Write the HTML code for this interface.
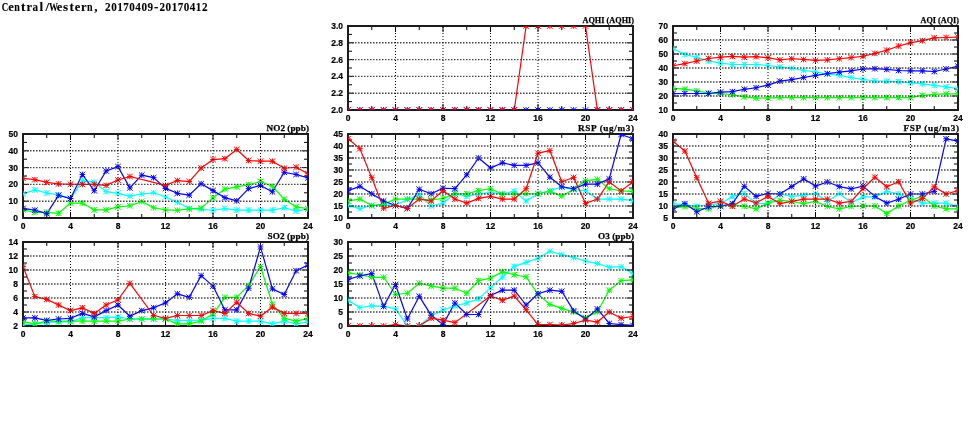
<!DOCTYPE html>
<html><head><meta charset="utf-8"><style>
html,body{margin:0;padding:0;background:#fff;width:975px;height:447px;overflow:hidden}
svg{display:block;will-change:transform}
.t text{font-family:"Liberation Sans",sans-serif;font-weight:bold;font-size:8.5px;fill:#000;stroke:#000;stroke-width:0.2}
.pt{font-family:"Liberation Serif",serif;font-weight:bold;font-size:9.2px;fill:#000;stroke:#000;stroke-width:0.25}
.ttl text{font-family:"Liberation Serif",serif;font-weight:bold;font-size:12px;fill:#000;stroke:#000;stroke-width:0.1}
</style></head><body>
<svg width="975" height="447" viewBox="0 0 975 447">
<defs><clipPath id="c0"><rect x="348" y="26" width="285" height="84"/></clipPath><clipPath id="c1"><rect x="673" y="26" width="285" height="84"/></clipPath><clipPath id="c2"><rect x="23" y="134" width="285" height="84"/></clipPath><clipPath id="c3"><rect x="348" y="134" width="285" height="84"/></clipPath><clipPath id="c4"><rect x="673" y="134" width="285" height="84"/></clipPath><clipPath id="c5"><rect x="23" y="242" width="285" height="84"/></clipPath><clipPath id="c6"><rect x="348" y="242" width="285" height="84"/></clipPath></defs>
<rect width="975" height="447" fill="#fff"/>
<g class="ttl"><text transform="translate(5.03,10.90) scale(0.750,1)" text-anchor="middle">C</text><text transform="translate(11.08,10.90) scale(1.045,1)" text-anchor="middle">e</text><text transform="translate(17.12,10.90) scale(0.834,1)" text-anchor="middle">n</text><text transform="translate(23.17,10.90) scale(1.100,1)" text-anchor="middle">t</text><text transform="translate(29.22,10.90) scale(1.045,1)" text-anchor="middle">r</text><text transform="translate(35.27,10.90) scale(0.928,1)" text-anchor="middle">a</text><text transform="translate(41.32,10.90) scale(1.100,1)" text-anchor="middle">l</text><text transform="translate(47.38,10.90) scale(1.100,1)" text-anchor="middle">/</text><text transform="translate(53.42,10.90) scale(0.750,1)" text-anchor="middle">W</text><text transform="translate(59.47,10.90) scale(1.045,1)" text-anchor="middle">e</text><text transform="translate(65.53,10.90) scale(1.100,1)" text-anchor="middle">s</text><text transform="translate(71.58,10.90) scale(1.100,1)" text-anchor="middle">t</text><text transform="translate(77.62,10.90) scale(1.045,1)" text-anchor="middle">e</text><text transform="translate(83.67,10.90) scale(1.045,1)" text-anchor="middle">r</text><text transform="translate(89.73,10.90) scale(0.834,1)" text-anchor="middle">n</text><text transform="translate(95.78,10.90) scale(1.100,1)" text-anchor="middle">,</text><text transform="translate(107.88,10.90) scale(0.928,1)" text-anchor="middle">2</text><text transform="translate(113.92,10.90) scale(0.928,1)" text-anchor="middle">0</text><text transform="translate(119.98,10.90) scale(0.928,1)" text-anchor="middle">1</text><text transform="translate(126.03,10.90) scale(0.928,1)" text-anchor="middle">7</text><text transform="translate(132.08,10.90) scale(0.928,1)" text-anchor="middle">0</text><text transform="translate(138.12,10.90) scale(0.928,1)" text-anchor="middle">4</text><text transform="translate(144.18,10.90) scale(0.928,1)" text-anchor="middle">0</text><text transform="translate(150.22,10.90) scale(0.928,1)" text-anchor="middle">9</text><text transform="translate(156.28,10.90) scale(1.100,1)" text-anchor="middle">-</text><text transform="translate(162.32,10.90) scale(0.928,1)" text-anchor="middle">2</text><text transform="translate(168.38,10.90) scale(0.928,1)" text-anchor="middle">0</text><text transform="translate(174.43,10.90) scale(0.928,1)" text-anchor="middle">1</text><text transform="translate(180.47,10.90) scale(0.928,1)" text-anchor="middle">7</text><text transform="translate(186.53,10.90) scale(0.928,1)" text-anchor="middle">0</text><text transform="translate(192.57,10.90) scale(0.928,1)" text-anchor="middle">4</text><text transform="translate(198.62,10.90) scale(0.928,1)" text-anchor="middle">1</text><text transform="translate(204.68,10.90) scale(0.928,1)" text-anchor="middle">2</text></g>
<g clip-path="url(#c0)">
<path d="M348 110 L359.88 110 L371.75 110 L383.62 110 L395.5 110 L407.38 110 L419.25 110 L431.12 110 L443 110 L454.88 110 L466.75 110 L478.62 110 L490.5 110 L502.38 110 L514.25 110 L526.12 110 L538 110 L549.88 110 L561.75 110 L573.62 110 L585.5 110 L597.38 110 L609.25 110 L621.12 110 L633 110" fill="none" stroke="#0000ff" stroke-width="1.2" stroke-linejoin="round"/>
<path d="M348 110 L359.88 110 L371.75 110 L383.62 110 L395.5 110 L407.38 110 L419.25 110 L431.12 110 L443 110 L454.88 110 L466.75 110 L478.62 110 L490.5 110 L502.38 110 L514.25 110 L526.12 26 L538 26 L549.88 26 L561.75 26 L573.62 26 L585.5 26 L597.38 110 L609.25 110 L621.12 110 L633 110" fill="none" stroke="#ff0000" stroke-width="1.2" stroke-linejoin="round"/>
</g>
<path d="M348 110v-6M348 26v6M371.75 110v-4M371.75 26v4M395.5 110v-6M395.5 26v6M419.25 110v-4M419.25 26v4M443 110v-6M443 26v6M466.75 110v-4M466.75 26v4M490.5 110v-6M490.5 26v6M514.25 110v-4M514.25 26v4M538 110v-6M538 26v6M561.75 110v-4M561.75 26v4M585.5 110v-6M585.5 26v6M609.25 110v-4M609.25 26v4M633 110v-6M633 26v6M348 110h6M633 110h-6M348 101.6h4M633 101.6h-4M348 93.2h6M633 93.2h-6M348 84.8h4M633 84.8h-4M348 76.4h6M633 76.4h-6M348 68h4M633 68h-4M348 59.6h6M633 59.6h-6M348 51.2h4M633 51.2h-4M348 42.8h6M633 42.8h-6M348 34.4h4M633 34.4h-4M348 26h6M633 26h-6" stroke="#000" stroke-width="1" fill="none"/>
<rect x="348" y="26" width="285" height="84" fill="none" stroke="#1c1c1c" stroke-width="2"/>
<g clip-path="url(#c0)">
<path d="M345.2 110L350.8 110M348 107.2L348 112.8M345.2 107.2L350.8 112.8M345.2 112.8L350.8 107.2M357.07 110L362.68 110M359.88 107.2L359.88 112.8M357.07 107.2L362.68 112.8M357.07 112.8L362.68 107.2M368.95 110L374.55 110M371.75 107.2L371.75 112.8M368.95 107.2L374.55 112.8M368.95 112.8L374.55 107.2M380.82 110L386.43 110M383.62 107.2L383.62 112.8M380.82 107.2L386.43 112.8M380.82 112.8L386.43 107.2M392.7 110L398.3 110M395.5 107.2L395.5 112.8M392.7 107.2L398.3 112.8M392.7 112.8L398.3 107.2M404.57 110L410.18 110M407.38 107.2L407.38 112.8M404.57 107.2L410.18 112.8M404.57 112.8L410.18 107.2M416.45 110L422.05 110M419.25 107.2L419.25 112.8M416.45 107.2L422.05 112.8M416.45 112.8L422.05 107.2M428.32 110L433.93 110M431.12 107.2L431.12 112.8M428.32 107.2L433.93 112.8M428.32 112.8L433.93 107.2M440.2 110L445.8 110M443 107.2L443 112.8M440.2 107.2L445.8 112.8M440.2 112.8L445.8 107.2M452.07 110L457.68 110M454.88 107.2L454.88 112.8M452.07 107.2L457.68 112.8M452.07 112.8L457.68 107.2M463.95 110L469.55 110M466.75 107.2L466.75 112.8M463.95 107.2L469.55 112.8M463.95 112.8L469.55 107.2M475.82 110L481.43 110M478.62 107.2L478.62 112.8M475.82 107.2L481.43 112.8M475.82 112.8L481.43 107.2M487.7 110L493.3 110M490.5 107.2L490.5 112.8M487.7 107.2L493.3 112.8M487.7 112.8L493.3 107.2M499.57 110L505.18 110M502.38 107.2L502.38 112.8M499.57 107.2L505.18 112.8M499.57 112.8L505.18 107.2M511.45 110L517.05 110M514.25 107.2L514.25 112.8M511.45 107.2L517.05 112.8M511.45 112.8L517.05 107.2M523.33 110L528.92 110M526.12 107.2L526.12 112.8M523.33 107.2L528.92 112.8M523.33 112.8L528.92 107.2M535.2 110L540.8 110M538 107.2L538 112.8M535.2 107.2L540.8 112.8M535.2 112.8L540.8 107.2M547.08 110L552.67 110M549.88 107.2L549.88 112.8M547.08 107.2L552.67 112.8M547.08 112.8L552.67 107.2M558.95 110L564.55 110M561.75 107.2L561.75 112.8M558.95 107.2L564.55 112.8M558.95 112.8L564.55 107.2M570.83 110L576.42 110M573.62 107.2L573.62 112.8M570.83 107.2L576.42 112.8M570.83 112.8L576.42 107.2M582.7 110L588.3 110M585.5 107.2L585.5 112.8M582.7 107.2L588.3 112.8M582.7 112.8L588.3 107.2M594.58 110L600.17 110M597.38 107.2L597.38 112.8M594.58 107.2L600.17 112.8M594.58 112.8L600.17 107.2M606.45 110L612.05 110M609.25 107.2L609.25 112.8M606.45 107.2L612.05 112.8M606.45 112.8L612.05 107.2M618.33 110L623.92 110M621.12 107.2L621.12 112.8M618.33 107.2L623.92 112.8M618.33 112.8L623.92 107.2M630.2 110L635.8 110M633 107.2L633 112.8M630.2 107.2L635.8 112.8M630.2 112.8L635.8 107.2" fill="none" stroke="#0000ff" stroke-width="1.0"/>
<path d="M345.2 110L350.8 110M348 107.2L348 112.8M345.2 107.2L350.8 112.8M345.2 112.8L350.8 107.2M357.07 110L362.68 110M359.88 107.2L359.88 112.8M357.07 107.2L362.68 112.8M357.07 112.8L362.68 107.2M368.95 110L374.55 110M371.75 107.2L371.75 112.8M368.95 107.2L374.55 112.8M368.95 112.8L374.55 107.2M380.82 110L386.43 110M383.62 107.2L383.62 112.8M380.82 107.2L386.43 112.8M380.82 112.8L386.43 107.2M392.7 110L398.3 110M395.5 107.2L395.5 112.8M392.7 107.2L398.3 112.8M392.7 112.8L398.3 107.2M404.57 110L410.18 110M407.38 107.2L407.38 112.8M404.57 107.2L410.18 112.8M404.57 112.8L410.18 107.2M416.45 110L422.05 110M419.25 107.2L419.25 112.8M416.45 107.2L422.05 112.8M416.45 112.8L422.05 107.2M428.32 110L433.93 110M431.12 107.2L431.12 112.8M428.32 107.2L433.93 112.8M428.32 112.8L433.93 107.2M440.2 110L445.8 110M443 107.2L443 112.8M440.2 107.2L445.8 112.8M440.2 112.8L445.8 107.2M452.07 110L457.68 110M454.88 107.2L454.88 112.8M452.07 107.2L457.68 112.8M452.07 112.8L457.68 107.2M463.95 110L469.55 110M466.75 107.2L466.75 112.8M463.95 107.2L469.55 112.8M463.95 112.8L469.55 107.2M475.82 110L481.43 110M478.62 107.2L478.62 112.8M475.82 107.2L481.43 112.8M475.82 112.8L481.43 107.2M487.7 110L493.3 110M490.5 107.2L490.5 112.8M487.7 107.2L493.3 112.8M487.7 112.8L493.3 107.2M499.57 110L505.18 110M502.38 107.2L502.38 112.8M499.57 107.2L505.18 112.8M499.57 112.8L505.18 107.2M511.45 110L517.05 110M514.25 107.2L514.25 112.8M511.45 107.2L517.05 112.8M511.45 112.8L517.05 107.2M523.33 26L528.92 26M526.12 23.2L526.12 28.8M523.33 23.2L528.92 28.8M523.33 28.8L528.92 23.2M535.2 26L540.8 26M538 23.2L538 28.8M535.2 23.2L540.8 28.8M535.2 28.8L540.8 23.2M547.08 26L552.67 26M549.88 23.2L549.88 28.8M547.08 23.2L552.67 28.8M547.08 28.8L552.67 23.2M558.95 26L564.55 26M561.75 23.2L561.75 28.8M558.95 23.2L564.55 28.8M558.95 28.8L564.55 23.2M570.83 26L576.42 26M573.62 23.2L573.62 28.8M570.83 23.2L576.42 28.8M570.83 28.8L576.42 23.2M582.7 26L588.3 26M585.5 23.2L585.5 28.8M582.7 23.2L588.3 28.8M582.7 28.8L588.3 23.2M594.58 110L600.17 110M597.38 107.2L597.38 112.8M594.58 107.2L600.17 112.8M594.58 112.8L600.17 107.2M606.45 110L612.05 110M609.25 107.2L609.25 112.8M606.45 107.2L612.05 112.8M606.45 112.8L612.05 107.2M618.33 110L623.92 110M621.12 107.2L621.12 112.8M618.33 107.2L623.92 112.8M618.33 112.8L623.92 107.2M630.2 110L635.8 110M633 107.2L633 112.8M630.2 107.2L635.8 112.8M630.2 112.8L635.8 107.2" fill="none" stroke="#ff0000" stroke-width="1.0"/>
</g>
<path d="M349 93.2H632M349 76.4H632M349 59.6H632M349 42.8H632" stroke="#444" stroke-width="1.4" stroke-dasharray="1.5,1.5" fill="none"/>
<path d="M395.5 27V109M443 27V109M490.5 27V109M538 27V109M585.5 27V109" stroke="#000" stroke-width="1.0" stroke-dasharray="1,2" fill="none"/>
<g class="t"><text x="343" y="113" text-anchor="end">2.0</text><text x="343" y="96.2" text-anchor="end">2.2</text><text x="343" y="79.4" text-anchor="end">2.4</text><text x="343" y="62.6" text-anchor="end">2.6</text><text x="343" y="45.8" text-anchor="end">2.8</text><text x="343" y="29" text-anchor="end">3.0</text><text x="348" y="121" text-anchor="middle">0</text><text x="395.5" y="121" text-anchor="middle">4</text><text x="443" y="121" text-anchor="middle">8</text><text x="490.5" y="121" text-anchor="middle">12</text><text x="538" y="121" text-anchor="middle">16</text><text x="585.5" y="121" text-anchor="middle">20</text><text x="633" y="121" text-anchor="middle">24</text></g>
<text class="pt" x="634" y="22.7" text-anchor="end" textLength="51.5" lengthAdjust="spacingAndGlyphs">AQHI (AQHI)</text>
<g clip-path="url(#c1)">
<path d="M673 48.68 L684.88 54.56 L696.75 57.22 L708.62 61 L720.5 63.1 L732.38 64.5 L744.25 64.5 L756.12 64.5 L768 65.48 L779.88 66.88 L791.75 68.28 L803.62 70.52 L815.5 71.92 L827.38 74.02 L839.25 75.42 L851.12 77.52 L863 79.62 L874.88 80.74 L886.75 81.16 L898.62 81.72 L910.5 82.84 L922.38 83.82 L934.25 85.36 L946.12 86.9 L958 88.58" fill="none" stroke="#00ffff" stroke-width="1.2" stroke-linejoin="round"/>
<path d="M673 88.3 L684.88 89.14 L696.75 90.96 L708.62 93.06 L720.5 93.62 L732.38 94.74 L744.25 96.84 L756.12 98.1 L768 97.96 L779.88 97.68 L791.75 97.68 L803.62 97.68 L815.5 97.68 L827.38 97.68 L839.25 97.68 L851.12 97.68 L863 97.54 L874.88 97.54 L886.75 97.54 L898.62 97.54 L910.5 97.68 L922.38 95.3 L934.25 94.46 L946.12 93.9 L958 93.9" fill="none" stroke="#00ff00" stroke-width="1.2" stroke-linejoin="round"/>
<path d="M673 93.62 L684.88 93.48 L696.75 93.48 L708.62 93.48 L720.5 92.08 L732.38 91.66 L744.25 89.28 L756.12 87.74 L768 85.08 L779.88 81.16 L791.75 79.62 L803.62 77.52 L815.5 75.42 L827.38 73.6 L839.25 72.2 L851.12 70.94 L863 68.98 L874.88 68.7 L886.75 69.4 L898.62 70.52 L910.5 70.94 L922.38 70.94 L934.25 71.5 L946.12 68.98 L958 66.18" fill="none" stroke="#0000ff" stroke-width="1.2" stroke-linejoin="round"/>
<path d="M673 65.76 L684.88 63.66 L696.75 61 L708.62 58.48 L720.5 57.22 L732.38 56.38 L744.25 57.22 L756.12 56.66 L768 57.78 L779.88 59.88 L791.75 58.76 L803.62 59.46 L815.5 60.3 L827.38 59.88 L839.25 58.76 L851.12 57.64 L863 56.24 L874.88 53.44 L886.75 50.22 L898.62 46.02 L910.5 42.8 L922.38 40.7 L934.25 37.9 L946.12 37.48 L958 37.06" fill="none" stroke="#ff0000" stroke-width="1.2" stroke-linejoin="round"/>
</g>
<path d="M673 110v-6M673 26v6M696.75 110v-4M696.75 26v4M720.5 110v-6M720.5 26v6M744.25 110v-4M744.25 26v4M768 110v-6M768 26v6M791.75 110v-4M791.75 26v4M815.5 110v-6M815.5 26v6M839.25 110v-4M839.25 26v4M863 110v-6M863 26v6M886.75 110v-4M886.75 26v4M910.5 110v-6M910.5 26v6M934.25 110v-4M934.25 26v4M958 110v-6M958 26v6M673 110h6M958 110h-6M673 103h4M958 103h-4M673 96h6M958 96h-6M673 89h4M958 89h-4M673 82h6M958 82h-6M673 75h4M958 75h-4M673 68h6M958 68h-6M673 61h4M958 61h-4M673 54h6M958 54h-6M673 47h4M958 47h-4M673 40h6M958 40h-6M673 33h4M958 33h-4M673 26h6M958 26h-6" stroke="#000" stroke-width="1" fill="none"/>
<rect x="673" y="26" width="285" height="84" fill="none" stroke="#1c1c1c" stroke-width="2"/>
<g clip-path="url(#c1)">
<path d="M670.2 48.68L675.8 48.68M673 45.88L673 51.48M670.2 45.88L675.8 51.48M670.2 51.48L675.8 45.88M682.08 54.56L687.67 54.56M684.88 51.76L684.88 57.36M682.08 51.76L687.67 57.36M682.08 57.36L687.67 51.76M693.95 57.22L699.55 57.22M696.75 54.42L696.75 60.02M693.95 54.42L699.55 60.02M693.95 60.02L699.55 54.42M705.83 61L711.42 61M708.62 58.2L708.62 63.8M705.83 58.2L711.42 63.8M705.83 63.8L711.42 58.2M717.7 63.1L723.3 63.1M720.5 60.3L720.5 65.9M717.7 60.3L723.3 65.9M717.7 65.9L723.3 60.3M729.58 64.5L735.17 64.5M732.38 61.7L732.38 67.3M729.58 61.7L735.17 67.3M729.58 67.3L735.17 61.7M741.45 64.5L747.05 64.5M744.25 61.7L744.25 67.3M741.45 61.7L747.05 67.3M741.45 67.3L747.05 61.7M753.33 64.5L758.92 64.5M756.12 61.7L756.12 67.3M753.33 61.7L758.92 67.3M753.33 67.3L758.92 61.7M765.2 65.48L770.8 65.48M768 62.68L768 68.28M765.2 62.68L770.8 68.28M765.2 68.28L770.8 62.68M777.08 66.88L782.67 66.88M779.88 64.08L779.88 69.68M777.08 64.08L782.67 69.68M777.08 69.68L782.67 64.08M788.95 68.28L794.55 68.28M791.75 65.48L791.75 71.08M788.95 65.48L794.55 71.08M788.95 71.08L794.55 65.48M800.83 70.52L806.42 70.52M803.62 67.72L803.62 73.32M800.83 67.72L806.42 73.32M800.83 73.32L806.42 67.72M812.7 71.92L818.3 71.92M815.5 69.12L815.5 74.72M812.7 69.12L818.3 74.72M812.7 74.72L818.3 69.12M824.58 74.02L830.17 74.02M827.38 71.22L827.38 76.82M824.58 71.22L830.17 76.82M824.58 76.82L830.17 71.22M836.45 75.42L842.05 75.42M839.25 72.62L839.25 78.22M836.45 72.62L842.05 78.22M836.45 78.22L842.05 72.62M848.33 77.52L853.92 77.52M851.12 74.72L851.12 80.32M848.33 74.72L853.92 80.32M848.33 80.32L853.92 74.72M860.2 79.62L865.8 79.62M863 76.82L863 82.42M860.2 76.82L865.8 82.42M860.2 82.42L865.8 76.82M872.08 80.74L877.67 80.74M874.88 77.94L874.88 83.54M872.08 77.94L877.67 83.54M872.08 83.54L877.67 77.94M883.95 81.16L889.55 81.16M886.75 78.36L886.75 83.96M883.95 78.36L889.55 83.96M883.95 83.96L889.55 78.36M895.83 81.72L901.42 81.72M898.62 78.92L898.62 84.52M895.83 78.92L901.42 84.52M895.83 84.52L901.42 78.92M907.7 82.84L913.3 82.84M910.5 80.04L910.5 85.64M907.7 80.04L913.3 85.64M907.7 85.64L913.3 80.04M919.58 83.82L925.17 83.82M922.38 81.02L922.38 86.62M919.58 81.02L925.17 86.62M919.58 86.62L925.17 81.02M931.45 85.36L937.05 85.36M934.25 82.56L934.25 88.16M931.45 82.56L937.05 88.16M931.45 88.16L937.05 82.56M943.33 86.9L948.92 86.9M946.12 84.1L946.12 89.7M943.33 84.1L948.92 89.7M943.33 89.7L948.92 84.1M955.2 88.58L960.8 88.58M958 85.78L958 91.38M955.2 85.78L960.8 91.38M955.2 91.38L960.8 85.78" fill="none" stroke="#00ffff" stroke-width="1.0"/>
<path d="M670.2 88.3L675.8 88.3M673 85.5L673 91.1M670.2 85.5L675.8 91.1M670.2 91.1L675.8 85.5M682.08 89.14L687.67 89.14M684.88 86.34L684.88 91.94M682.08 86.34L687.67 91.94M682.08 91.94L687.67 86.34M693.95 90.96L699.55 90.96M696.75 88.16L696.75 93.76M693.95 88.16L699.55 93.76M693.95 93.76L699.55 88.16M705.83 93.06L711.42 93.06M708.62 90.26L708.62 95.86M705.83 90.26L711.42 95.86M705.83 95.86L711.42 90.26M717.7 93.62L723.3 93.62M720.5 90.82L720.5 96.42M717.7 90.82L723.3 96.42M717.7 96.42L723.3 90.82M729.58 94.74L735.17 94.74M732.38 91.94L732.38 97.54M729.58 91.94L735.17 97.54M729.58 97.54L735.17 91.94M741.45 96.84L747.05 96.84M744.25 94.04L744.25 99.64M741.45 94.04L747.05 99.64M741.45 99.64L747.05 94.04M753.33 98.1L758.92 98.1M756.12 95.3L756.12 100.9M753.33 95.3L758.92 100.9M753.33 100.9L758.92 95.3M765.2 97.96L770.8 97.96M768 95.16L768 100.76M765.2 95.16L770.8 100.76M765.2 100.76L770.8 95.16M777.08 97.68L782.67 97.68M779.88 94.88L779.88 100.48M777.08 94.88L782.67 100.48M777.08 100.48L782.67 94.88M788.95 97.68L794.55 97.68M791.75 94.88L791.75 100.48M788.95 94.88L794.55 100.48M788.95 100.48L794.55 94.88M800.83 97.68L806.42 97.68M803.62 94.88L803.62 100.48M800.83 94.88L806.42 100.48M800.83 100.48L806.42 94.88M812.7 97.68L818.3 97.68M815.5 94.88L815.5 100.48M812.7 94.88L818.3 100.48M812.7 100.48L818.3 94.88M824.58 97.68L830.17 97.68M827.38 94.88L827.38 100.48M824.58 94.88L830.17 100.48M824.58 100.48L830.17 94.88M836.45 97.68L842.05 97.68M839.25 94.88L839.25 100.48M836.45 94.88L842.05 100.48M836.45 100.48L842.05 94.88M848.33 97.68L853.92 97.68M851.12 94.88L851.12 100.48M848.33 94.88L853.92 100.48M848.33 100.48L853.92 94.88M860.2 97.54L865.8 97.54M863 94.74L863 100.34M860.2 94.74L865.8 100.34M860.2 100.34L865.8 94.74M872.08 97.54L877.67 97.54M874.88 94.74L874.88 100.34M872.08 94.74L877.67 100.34M872.08 100.34L877.67 94.74M883.95 97.54L889.55 97.54M886.75 94.74L886.75 100.34M883.95 94.74L889.55 100.34M883.95 100.34L889.55 94.74M895.83 97.54L901.42 97.54M898.62 94.74L898.62 100.34M895.83 94.74L901.42 100.34M895.83 100.34L901.42 94.74M907.7 97.68L913.3 97.68M910.5 94.88L910.5 100.48M907.7 94.88L913.3 100.48M907.7 100.48L913.3 94.88M919.58 95.3L925.17 95.3M922.38 92.5L922.38 98.1M919.58 92.5L925.17 98.1M919.58 98.1L925.17 92.5M931.45 94.46L937.05 94.46M934.25 91.66L934.25 97.26M931.45 91.66L937.05 97.26M931.45 97.26L937.05 91.66M943.33 93.9L948.92 93.9M946.12 91.1L946.12 96.7M943.33 91.1L948.92 96.7M943.33 96.7L948.92 91.1M955.2 93.9L960.8 93.9M958 91.1L958 96.7M955.2 91.1L960.8 96.7M955.2 96.7L960.8 91.1" fill="none" stroke="#00ff00" stroke-width="1.0"/>
<path d="M670.2 93.62L675.8 93.62M673 90.82L673 96.42M670.2 90.82L675.8 96.42M670.2 96.42L675.8 90.82M682.08 93.48L687.67 93.48M684.88 90.68L684.88 96.28M682.08 90.68L687.67 96.28M682.08 96.28L687.67 90.68M693.95 93.48L699.55 93.48M696.75 90.68L696.75 96.28M693.95 90.68L699.55 96.28M693.95 96.28L699.55 90.68M705.83 93.48L711.42 93.48M708.62 90.68L708.62 96.28M705.83 90.68L711.42 96.28M705.83 96.28L711.42 90.68M717.7 92.08L723.3 92.08M720.5 89.28L720.5 94.88M717.7 89.28L723.3 94.88M717.7 94.88L723.3 89.28M729.58 91.66L735.17 91.66M732.38 88.86L732.38 94.46M729.58 88.86L735.17 94.46M729.58 94.46L735.17 88.86M741.45 89.28L747.05 89.28M744.25 86.48L744.25 92.08M741.45 86.48L747.05 92.08M741.45 92.08L747.05 86.48M753.33 87.74L758.92 87.74M756.12 84.94L756.12 90.54M753.33 84.94L758.92 90.54M753.33 90.54L758.92 84.94M765.2 85.08L770.8 85.08M768 82.28L768 87.88M765.2 82.28L770.8 87.88M765.2 87.88L770.8 82.28M777.08 81.16L782.67 81.16M779.88 78.36L779.88 83.96M777.08 78.36L782.67 83.96M777.08 83.96L782.67 78.36M788.95 79.62L794.55 79.62M791.75 76.82L791.75 82.42M788.95 76.82L794.55 82.42M788.95 82.42L794.55 76.82M800.83 77.52L806.42 77.52M803.62 74.72L803.62 80.32M800.83 74.72L806.42 80.32M800.83 80.32L806.42 74.72M812.7 75.42L818.3 75.42M815.5 72.62L815.5 78.22M812.7 72.62L818.3 78.22M812.7 78.22L818.3 72.62M824.58 73.6L830.17 73.6M827.38 70.8L827.38 76.4M824.58 70.8L830.17 76.4M824.58 76.4L830.17 70.8M836.45 72.2L842.05 72.2M839.25 69.4L839.25 75M836.45 69.4L842.05 75M836.45 75L842.05 69.4M848.33 70.94L853.92 70.94M851.12 68.14L851.12 73.74M848.33 68.14L853.92 73.74M848.33 73.74L853.92 68.14M860.2 68.98L865.8 68.98M863 66.18L863 71.78M860.2 66.18L865.8 71.78M860.2 71.78L865.8 66.18M872.08 68.7L877.67 68.7M874.88 65.9L874.88 71.5M872.08 65.9L877.67 71.5M872.08 71.5L877.67 65.9M883.95 69.4L889.55 69.4M886.75 66.6L886.75 72.2M883.95 66.6L889.55 72.2M883.95 72.2L889.55 66.6M895.83 70.52L901.42 70.52M898.62 67.72L898.62 73.32M895.83 67.72L901.42 73.32M895.83 73.32L901.42 67.72M907.7 70.94L913.3 70.94M910.5 68.14L910.5 73.74M907.7 68.14L913.3 73.74M907.7 73.74L913.3 68.14M919.58 70.94L925.17 70.94M922.38 68.14L922.38 73.74M919.58 68.14L925.17 73.74M919.58 73.74L925.17 68.14M931.45 71.5L937.05 71.5M934.25 68.7L934.25 74.3M931.45 68.7L937.05 74.3M931.45 74.3L937.05 68.7M943.33 68.98L948.92 68.98M946.12 66.18L946.12 71.78M943.33 66.18L948.92 71.78M943.33 71.78L948.92 66.18M955.2 66.18L960.8 66.18M958 63.38L958 68.98M955.2 63.38L960.8 68.98M955.2 68.98L960.8 63.38" fill="none" stroke="#0000ff" stroke-width="1.0"/>
<path d="M670.2 65.76L675.8 65.76M673 62.96L673 68.56M670.2 62.96L675.8 68.56M670.2 68.56L675.8 62.96M682.08 63.66L687.67 63.66M684.88 60.86L684.88 66.46M682.08 60.86L687.67 66.46M682.08 66.46L687.67 60.86M693.95 61L699.55 61M696.75 58.2L696.75 63.8M693.95 58.2L699.55 63.8M693.95 63.8L699.55 58.2M705.83 58.48L711.42 58.48M708.62 55.68L708.62 61.28M705.83 55.68L711.42 61.28M705.83 61.28L711.42 55.68M717.7 57.22L723.3 57.22M720.5 54.42L720.5 60.02M717.7 54.42L723.3 60.02M717.7 60.02L723.3 54.42M729.58 56.38L735.17 56.38M732.38 53.58L732.38 59.18M729.58 53.58L735.17 59.18M729.58 59.18L735.17 53.58M741.45 57.22L747.05 57.22M744.25 54.42L744.25 60.02M741.45 54.42L747.05 60.02M741.45 60.02L747.05 54.42M753.33 56.66L758.92 56.66M756.12 53.86L756.12 59.46M753.33 53.86L758.92 59.46M753.33 59.46L758.92 53.86M765.2 57.78L770.8 57.78M768 54.98L768 60.58M765.2 54.98L770.8 60.58M765.2 60.58L770.8 54.98M777.08 59.88L782.67 59.88M779.88 57.08L779.88 62.68M777.08 57.08L782.67 62.68M777.08 62.68L782.67 57.08M788.95 58.76L794.55 58.76M791.75 55.96L791.75 61.56M788.95 55.96L794.55 61.56M788.95 61.56L794.55 55.96M800.83 59.46L806.42 59.46M803.62 56.66L803.62 62.26M800.83 56.66L806.42 62.26M800.83 62.26L806.42 56.66M812.7 60.3L818.3 60.3M815.5 57.5L815.5 63.1M812.7 57.5L818.3 63.1M812.7 63.1L818.3 57.5M824.58 59.88L830.17 59.88M827.38 57.08L827.38 62.68M824.58 57.08L830.17 62.68M824.58 62.68L830.17 57.08M836.45 58.76L842.05 58.76M839.25 55.96L839.25 61.56M836.45 55.96L842.05 61.56M836.45 61.56L842.05 55.96M848.33 57.64L853.92 57.64M851.12 54.84L851.12 60.44M848.33 54.84L853.92 60.44M848.33 60.44L853.92 54.84M860.2 56.24L865.8 56.24M863 53.44L863 59.04M860.2 53.44L865.8 59.04M860.2 59.04L865.8 53.44M872.08 53.44L877.67 53.44M874.88 50.64L874.88 56.24M872.08 50.64L877.67 56.24M872.08 56.24L877.67 50.64M883.95 50.22L889.55 50.22M886.75 47.42L886.75 53.02M883.95 47.42L889.55 53.02M883.95 53.02L889.55 47.42M895.83 46.02L901.42 46.02M898.62 43.22L898.62 48.82M895.83 43.22L901.42 48.82M895.83 48.82L901.42 43.22M907.7 42.8L913.3 42.8M910.5 40L910.5 45.6M907.7 40L913.3 45.6M907.7 45.6L913.3 40M919.58 40.7L925.17 40.7M922.38 37.9L922.38 43.5M919.58 37.9L925.17 43.5M919.58 43.5L925.17 37.9M931.45 37.9L937.05 37.9M934.25 35.1L934.25 40.7M931.45 35.1L937.05 40.7M931.45 40.7L937.05 35.1M943.33 37.48L948.92 37.48M946.12 34.68L946.12 40.28M943.33 34.68L948.92 40.28M943.33 40.28L948.92 34.68M955.2 37.06L960.8 37.06M958 34.26L958 39.86M955.2 34.26L960.8 39.86M955.2 39.86L960.8 34.26" fill="none" stroke="#ff0000" stroke-width="1.0"/>
</g>
<path d="M674 96H957M674 82H957M674 68H957M674 54H957M674 40H957" stroke="#444" stroke-width="1.4" stroke-dasharray="1.5,1.5" fill="none"/>
<path d="M720.5 27V109M768 27V109M815.5 27V109M863 27V109M910.5 27V109" stroke="#000" stroke-width="1.0" stroke-dasharray="1,2" fill="none"/>
<g class="t"><text x="668" y="113" text-anchor="end">10</text><text x="668" y="99" text-anchor="end">20</text><text x="668" y="85" text-anchor="end">30</text><text x="668" y="71" text-anchor="end">40</text><text x="668" y="57" text-anchor="end">50</text><text x="668" y="43" text-anchor="end">60</text><text x="668" y="29" text-anchor="end">70</text><text x="673" y="121" text-anchor="middle">0</text><text x="720.5" y="121" text-anchor="middle">4</text><text x="768" y="121" text-anchor="middle">8</text><text x="815.5" y="121" text-anchor="middle">12</text><text x="863" y="121" text-anchor="middle">16</text><text x="910.5" y="121" text-anchor="middle">20</text><text x="958" y="121" text-anchor="middle">24</text></g>
<text class="pt" x="959" y="22.7" text-anchor="end" textLength="38.5" lengthAdjust="spacingAndGlyphs">AQI (AQI)</text>
<g clip-path="url(#c2)">
<path d="M23 193.81 L34.88 189.94 L46.75 192.97 L58.62 194.82 L70.5 198.68 L82.38 180.87 L94.25 182.22 L106.12 191.62 L118 193.3 L129.88 196.16 L141.75 193.98 L153.62 192.8 L165.5 197 L177.38 202.21 L189.25 208.42 L201.12 209.43 L213 210.27 L224.88 208.59 L236.75 210.1 L248.62 210.1 L260.5 210.1 L272.38 210.1 L284.25 207.75 L296.12 211.11 L308 208.93" fill="none" stroke="#00ffff" stroke-width="1.2" stroke-linejoin="round"/>
<path d="M23 209.94 L34.88 212.29 L46.75 212.29 L58.62 213.3 L70.5 203.05 L82.38 203.05 L94.25 209.94 L106.12 209.94 L118 206.91 L129.88 205.74 L141.75 201.54 L153.62 207.75 L165.5 209.94 L177.38 210.27 L189.25 208.93 L201.12 208.09 L213 197.84 L224.88 189.1 L236.75 186.92 L248.62 184.74 L260.5 181.54 L272.38 186.25 L284.25 199.35 L296.12 206.91 L308 208.76" fill="none" stroke="#00ff00" stroke-width="1.2" stroke-linejoin="round"/>
<path d="M23 208.42 L34.88 210.1 L46.75 213.63 L58.62 195.32 L70.5 198.51 L82.38 174.49 L94.25 190.78 L106.12 170.96 L118 166.59 L129.88 187.93 L141.75 175.16 L153.62 177.68 L165.5 188.43 L177.38 193.3 L189.25 195.15 L201.12 183.73 L213 190.62 L224.88 197.67 L236.75 200.86 L248.62 188.6 L260.5 185.41 L272.38 191.79 L284.25 172.3 L296.12 174.49 L308 177.85" fill="none" stroke="#0000ff" stroke-width="1.2" stroke-linejoin="round"/>
<path d="M23 178.35 L34.88 179.7 L46.75 182.38 L58.62 183.9 L70.5 184.23 L82.38 184.4 L94.25 184.4 L106.12 185.41 L118 180.03 L129.88 176.5 L165.5 185.41 L177.38 180.54 L189.25 181.54 L201.12 168.1 L213 159.54 L224.88 158.7 L236.75 149.46 L248.62 160.54 L260.5 161.22 L272.38 161.22 L284.25 168.27 L296.12 167.26 L308 173.65" fill="none" stroke="#ff0000" stroke-width="1.2" stroke-linejoin="round"/>
</g>
<path d="M23 218v-6M23 134v6M46.75 218v-4M46.75 134v4M70.5 218v-6M70.5 134v6M94.25 218v-4M94.25 134v4M118 218v-6M118 134v6M141.75 218v-4M141.75 134v4M165.5 218v-6M165.5 134v6M189.25 218v-4M189.25 134v4M213 218v-6M213 134v6M236.75 218v-4M236.75 134v4M260.5 218v-6M260.5 134v6M284.25 218v-4M284.25 134v4M308 218v-6M308 134v6M23 218h6M308 218h-6M23 209.6h4M308 209.6h-4M23 201.2h6M308 201.2h-6M23 192.8h4M308 192.8h-4M23 184.4h6M308 184.4h-6M23 176h4M308 176h-4M23 167.6h6M308 167.6h-6M23 159.2h4M308 159.2h-4M23 150.8h6M308 150.8h-6M23 142.4h4M308 142.4h-4M23 134h6M308 134h-6" stroke="#000" stroke-width="1" fill="none"/>
<rect x="23" y="134" width="285" height="84" fill="none" stroke="#1c1c1c" stroke-width="2"/>
<g clip-path="url(#c2)">
<path d="M20.2 193.81L25.8 193.81M23 191.01L23 196.61M20.2 191.01L25.8 196.61M20.2 196.61L25.8 191.01M32.08 189.94L37.67 189.94M34.88 187.14L34.88 192.74M32.08 187.14L37.67 192.74M32.08 192.74L37.67 187.14M43.95 192.97L49.55 192.97M46.75 190.17L46.75 195.77M43.95 190.17L49.55 195.77M43.95 195.77L49.55 190.17M55.83 194.82L61.42 194.82M58.62 192.02L58.62 197.62M55.83 192.02L61.42 197.62M55.83 197.62L61.42 192.02M67.7 198.68L73.3 198.68M70.5 195.88L70.5 201.48M67.7 195.88L73.3 201.48M67.7 201.48L73.3 195.88M79.58 180.87L85.17 180.87M82.38 178.07L82.38 183.67M79.58 178.07L85.17 183.67M79.58 183.67L85.17 178.07M91.45 182.22L97.05 182.22M94.25 179.42L94.25 185.02M91.45 179.42L97.05 185.02M91.45 185.02L97.05 179.42M103.33 191.62L108.92 191.62M106.12 188.82L106.12 194.42M103.33 188.82L108.92 194.42M103.33 194.42L108.92 188.82M115.2 193.3L120.8 193.3M118 190.5L118 196.1M115.2 190.5L120.8 196.1M115.2 196.1L120.8 190.5M127.08 196.16L132.68 196.16M129.88 193.36L129.88 198.96M127.08 193.36L132.68 198.96M127.08 198.96L132.68 193.36M138.95 193.98L144.55 193.98M141.75 191.18L141.75 196.78M138.95 191.18L144.55 196.78M138.95 196.78L144.55 191.18M150.82 192.8L156.43 192.8M153.62 190L153.62 195.6M150.82 190L156.43 195.6M150.82 195.6L156.43 190M162.7 197L168.3 197M165.5 194.2L165.5 199.8M162.7 194.2L168.3 199.8M162.7 199.8L168.3 194.2M174.57 202.21L180.18 202.21M177.38 199.41L177.38 205.01M174.57 199.41L180.18 205.01M174.57 205.01L180.18 199.41M186.45 208.42L192.05 208.42M189.25 205.62L189.25 211.22M186.45 205.62L192.05 211.22M186.45 211.22L192.05 205.62M198.32 209.43L203.93 209.43M201.12 206.63L201.12 212.23M198.32 206.63L203.93 212.23M198.32 212.23L203.93 206.63M210.2 210.27L215.8 210.27M213 207.47L213 213.07M210.2 207.47L215.8 213.07M210.2 213.07L215.8 207.47M222.07 208.59L227.68 208.59M224.88 205.79L224.88 211.39M222.07 205.79L227.68 211.39M222.07 211.39L227.68 205.79M233.95 210.1L239.55 210.1M236.75 207.3L236.75 212.9M233.95 207.3L239.55 212.9M233.95 212.9L239.55 207.3M245.82 210.1L251.43 210.1M248.62 207.3L248.62 212.9M245.82 207.3L251.43 212.9M245.82 212.9L251.43 207.3M257.7 210.1L263.3 210.1M260.5 207.3L260.5 212.9M257.7 207.3L263.3 212.9M257.7 212.9L263.3 207.3M269.57 210.1L275.18 210.1M272.38 207.3L272.38 212.9M269.57 207.3L275.18 212.9M269.57 212.9L275.18 207.3M281.45 207.75L287.05 207.75M284.25 204.95L284.25 210.55M281.45 204.95L287.05 210.55M281.45 210.55L287.05 204.95M293.32 211.11L298.93 211.11M296.12 208.31L296.12 213.91M293.32 208.31L298.93 213.91M293.32 213.91L298.93 208.31M305.2 208.93L310.8 208.93M308 206.13L308 211.73M305.2 206.13L310.8 211.73M305.2 211.73L310.8 206.13" fill="none" stroke="#00ffff" stroke-width="1.0"/>
<path d="M20.2 209.94L25.8 209.94M23 207.14L23 212.74M20.2 207.14L25.8 212.74M20.2 212.74L25.8 207.14M32.08 212.29L37.67 212.29M34.88 209.49L34.88 215.09M32.08 209.49L37.67 215.09M32.08 215.09L37.67 209.49M43.95 212.29L49.55 212.29M46.75 209.49L46.75 215.09M43.95 209.49L49.55 215.09M43.95 215.09L49.55 209.49M55.83 213.3L61.42 213.3M58.62 210.5L58.62 216.1M55.83 210.5L61.42 216.1M55.83 216.1L61.42 210.5M67.7 203.05L73.3 203.05M70.5 200.25L70.5 205.85M67.7 200.25L73.3 205.85M67.7 205.85L73.3 200.25M79.58 203.05L85.17 203.05M82.38 200.25L82.38 205.85M79.58 200.25L85.17 205.85M79.58 205.85L85.17 200.25M91.45 209.94L97.05 209.94M94.25 207.14L94.25 212.74M91.45 207.14L97.05 212.74M91.45 212.74L97.05 207.14M103.33 209.94L108.92 209.94M106.12 207.14L106.12 212.74M103.33 207.14L108.92 212.74M103.33 212.74L108.92 207.14M115.2 206.91L120.8 206.91M118 204.11L118 209.71M115.2 204.11L120.8 209.71M115.2 209.71L120.8 204.11M127.08 205.74L132.68 205.74M129.88 202.94L129.88 208.54M127.08 202.94L132.68 208.54M127.08 208.54L132.68 202.94M138.95 201.54L144.55 201.54M141.75 198.74L141.75 204.34M138.95 198.74L144.55 204.34M138.95 204.34L144.55 198.74M150.82 207.75L156.43 207.75M153.62 204.95L153.62 210.55M150.82 204.95L156.43 210.55M150.82 210.55L156.43 204.95M162.7 209.94L168.3 209.94M165.5 207.14L165.5 212.74M162.7 207.14L168.3 212.74M162.7 212.74L168.3 207.14M174.57 210.27L180.18 210.27M177.38 207.47L177.38 213.07M174.57 207.47L180.18 213.07M174.57 213.07L180.18 207.47M186.45 208.93L192.05 208.93M189.25 206.13L189.25 211.73M186.45 206.13L192.05 211.73M186.45 211.73L192.05 206.13M198.32 208.09L203.93 208.09M201.12 205.29L201.12 210.89M198.32 205.29L203.93 210.89M198.32 210.89L203.93 205.29M210.2 197.84L215.8 197.84M213 195.04L213 200.64M210.2 195.04L215.8 200.64M210.2 200.64L215.8 195.04M222.07 189.1L227.68 189.1M224.88 186.3L224.88 191.9M222.07 186.3L227.68 191.9M222.07 191.9L227.68 186.3M233.95 186.92L239.55 186.92M236.75 184.12L236.75 189.72M233.95 184.12L239.55 189.72M233.95 189.72L239.55 184.12M245.82 184.74L251.43 184.74M248.62 181.94L248.62 187.54M245.82 181.94L251.43 187.54M245.82 187.54L251.43 181.94M257.7 181.54L263.3 181.54M260.5 178.74L260.5 184.34M257.7 178.74L263.3 184.34M257.7 184.34L263.3 178.74M269.57 186.25L275.18 186.25M272.38 183.45L272.38 189.05M269.57 183.45L275.18 189.05M269.57 189.05L275.18 183.45M281.45 199.35L287.05 199.35M284.25 196.55L284.25 202.15M281.45 196.55L287.05 202.15M281.45 202.15L287.05 196.55M293.32 206.91L298.93 206.91M296.12 204.11L296.12 209.71M293.32 204.11L298.93 209.71M293.32 209.71L298.93 204.11M305.2 208.76L310.8 208.76M308 205.96L308 211.56M305.2 205.96L310.8 211.56M305.2 211.56L310.8 205.96" fill="none" stroke="#00ff00" stroke-width="1.0"/>
<path d="M20.2 208.42L25.8 208.42M23 205.62L23 211.22M20.2 205.62L25.8 211.22M20.2 211.22L25.8 205.62M32.08 210.1L37.67 210.1M34.88 207.3L34.88 212.9M32.08 207.3L37.67 212.9M32.08 212.9L37.67 207.3M43.95 213.63L49.55 213.63M46.75 210.83L46.75 216.43M43.95 210.83L49.55 216.43M43.95 216.43L49.55 210.83M55.83 195.32L61.42 195.32M58.62 192.52L58.62 198.12M55.83 192.52L61.42 198.12M55.83 198.12L61.42 192.52M67.7 198.51L73.3 198.51M70.5 195.71L70.5 201.31M67.7 195.71L73.3 201.31M67.7 201.31L73.3 195.71M79.58 174.49L85.17 174.49M82.38 171.69L82.38 177.29M79.58 171.69L85.17 177.29M79.58 177.29L85.17 171.69M91.45 190.78L97.05 190.78M94.25 187.98L94.25 193.58M91.45 187.98L97.05 193.58M91.45 193.58L97.05 187.98M103.33 170.96L108.92 170.96M106.12 168.16L106.12 173.76M103.33 168.16L108.92 173.76M103.33 173.76L108.92 168.16M115.2 166.59L120.8 166.59M118 163.79L118 169.39M115.2 163.79L120.8 169.39M115.2 169.39L120.8 163.79M127.08 187.93L132.68 187.93M129.88 185.13L129.88 190.73M127.08 185.13L132.68 190.73M127.08 190.73L132.68 185.13M138.95 175.16L144.55 175.16M141.75 172.36L141.75 177.96M138.95 172.36L144.55 177.96M138.95 177.96L144.55 172.36M150.82 177.68L156.43 177.68M153.62 174.88L153.62 180.48M150.82 174.88L156.43 180.48M150.82 180.48L156.43 174.88M162.7 188.43L168.3 188.43M165.5 185.63L165.5 191.23M162.7 185.63L168.3 191.23M162.7 191.23L168.3 185.63M174.57 193.3L180.18 193.3M177.38 190.5L177.38 196.1M174.57 190.5L180.18 196.1M174.57 196.1L180.18 190.5M186.45 195.15L192.05 195.15M189.25 192.35L189.25 197.95M186.45 192.35L192.05 197.95M186.45 197.95L192.05 192.35M198.32 183.73L203.93 183.73M201.12 180.93L201.12 186.53M198.32 180.93L203.93 186.53M198.32 186.53L203.93 180.93M210.2 190.62L215.8 190.62M213 187.82L213 193.42M210.2 187.82L215.8 193.42M210.2 193.42L215.8 187.82M222.07 197.67L227.68 197.67M224.88 194.87L224.88 200.47M222.07 194.87L227.68 200.47M222.07 200.47L227.68 194.87M233.95 200.86L239.55 200.86M236.75 198.06L236.75 203.66M233.95 198.06L239.55 203.66M233.95 203.66L239.55 198.06M245.82 188.6L251.43 188.6M248.62 185.8L248.62 191.4M245.82 185.8L251.43 191.4M245.82 191.4L251.43 185.8M257.7 185.41L263.3 185.41M260.5 182.61L260.5 188.21M257.7 182.61L263.3 188.21M257.7 188.21L263.3 182.61M269.57 191.79L275.18 191.79M272.38 188.99L272.38 194.59M269.57 188.99L275.18 194.59M269.57 194.59L275.18 188.99M281.45 172.3L287.05 172.3M284.25 169.5L284.25 175.1M281.45 169.5L287.05 175.1M281.45 175.1L287.05 169.5M293.32 174.49L298.93 174.49M296.12 171.69L296.12 177.29M293.32 171.69L298.93 177.29M293.32 177.29L298.93 171.69M305.2 177.85L310.8 177.85M308 175.05L308 180.65M305.2 175.05L310.8 180.65M305.2 180.65L310.8 175.05" fill="none" stroke="#0000ff" stroke-width="1.0"/>
<path d="M20.2 178.35L25.8 178.35M23 175.55L23 181.15M20.2 175.55L25.8 181.15M20.2 181.15L25.8 175.55M32.08 179.7L37.67 179.7M34.88 176.9L34.88 182.5M32.08 176.9L37.67 182.5M32.08 182.5L37.67 176.9M43.95 182.38L49.55 182.38M46.75 179.58L46.75 185.18M43.95 179.58L49.55 185.18M43.95 185.18L49.55 179.58M55.83 183.9L61.42 183.9M58.62 181.1L58.62 186.7M55.83 181.1L61.42 186.7M55.83 186.7L61.42 181.1M67.7 184.23L73.3 184.23M70.5 181.43L70.5 187.03M67.7 181.43L73.3 187.03M67.7 187.03L73.3 181.43M79.58 184.4L85.17 184.4M82.38 181.6L82.38 187.2M79.58 181.6L85.17 187.2M79.58 187.2L85.17 181.6M91.45 184.4L97.05 184.4M94.25 181.6L94.25 187.2M91.45 181.6L97.05 187.2M91.45 187.2L97.05 181.6M103.33 185.41L108.92 185.41M106.12 182.61L106.12 188.21M103.33 182.61L108.92 188.21M103.33 188.21L108.92 182.61M115.2 180.03L120.8 180.03M118 177.23L118 182.83M115.2 177.23L120.8 182.83M115.2 182.83L120.8 177.23M127.08 176.5L132.68 176.5M129.88 173.7L129.88 179.3M127.08 173.7L132.68 179.3M127.08 179.3L132.68 173.7M162.7 185.41L168.3 185.41M165.5 182.61L165.5 188.21M162.7 182.61L168.3 188.21M162.7 188.21L168.3 182.61M174.57 180.54L180.18 180.54M177.38 177.74L177.38 183.34M174.57 177.74L180.18 183.34M174.57 183.34L180.18 177.74M186.45 181.54L192.05 181.54M189.25 178.74L189.25 184.34M186.45 178.74L192.05 184.34M186.45 184.34L192.05 178.74M198.32 168.1L203.93 168.1M201.12 165.3L201.12 170.9M198.32 165.3L203.93 170.9M198.32 170.9L203.93 165.3M210.2 159.54L215.8 159.54M213 156.74L213 162.34M210.2 156.74L215.8 162.34M210.2 162.34L215.8 156.74M222.07 158.7L227.68 158.7M224.88 155.9L224.88 161.5M222.07 155.9L227.68 161.5M222.07 161.5L227.68 155.9M233.95 149.46L239.55 149.46M236.75 146.66L236.75 152.26M233.95 146.66L239.55 152.26M233.95 152.26L239.55 146.66M245.82 160.54L251.43 160.54M248.62 157.74L248.62 163.34M245.82 157.74L251.43 163.34M245.82 163.34L251.43 157.74M257.7 161.22L263.3 161.22M260.5 158.42L260.5 164.02M257.7 158.42L263.3 164.02M257.7 164.02L263.3 158.42M269.57 161.22L275.18 161.22M272.38 158.42L272.38 164.02M269.57 158.42L275.18 164.02M269.57 164.02L275.18 158.42M281.45 168.27L287.05 168.27M284.25 165.47L284.25 171.07M281.45 165.47L287.05 171.07M281.45 171.07L287.05 165.47M293.32 167.26L298.93 167.26M296.12 164.46L296.12 170.06M293.32 164.46L298.93 170.06M293.32 170.06L298.93 164.46M305.2 173.65L310.8 173.65M308 170.85L308 176.45M305.2 170.85L310.8 176.45M305.2 176.45L310.8 170.85" fill="none" stroke="#ff0000" stroke-width="1.0"/>
</g>
<path d="M24 201.2H307M24 184.4H307M24 167.6H307M24 150.8H307" stroke="#444" stroke-width="1.4" stroke-dasharray="1.5,1.5" fill="none"/>
<path d="M70.5 135V217M118 135V217M165.5 135V217M213 135V217M260.5 135V217" stroke="#000" stroke-width="1.0" stroke-dasharray="1,2" fill="none"/>
<g class="t"><text x="18" y="221" text-anchor="end">0</text><text x="18" y="204.2" text-anchor="end">10</text><text x="18" y="187.4" text-anchor="end">20</text><text x="18" y="170.6" text-anchor="end">30</text><text x="18" y="153.8" text-anchor="end">40</text><text x="18" y="137" text-anchor="end">50</text><text x="23" y="229" text-anchor="middle">0</text><text x="70.5" y="229" text-anchor="middle">4</text><text x="118" y="229" text-anchor="middle">8</text><text x="165.5" y="229" text-anchor="middle">12</text><text x="213" y="229" text-anchor="middle">16</text><text x="260.5" y="229" text-anchor="middle">20</text><text x="308" y="229" text-anchor="middle">24</text></g>
<text class="pt" x="309" y="130.7" text-anchor="end" textLength="42.5" lengthAdjust="spacing">NO2 (ppb)</text>
<g clip-path="url(#c3)">
<path d="M348 205.52 L359.88 208.64 L371.75 205.52 L383.62 204.8 L395.5 205.04 L407.38 199.52 L419.25 194.72 L431.12 206 L443 203.12 L454.88 193.76 L466.75 196.4 L478.62 194 L490.5 192.32 L502.38 194 L514.25 191.12 L526.12 200.96 L538 193.76 L549.88 190.88 L561.75 186.8 L573.62 189.68 L585.5 190.64 L597.38 199.04 L609.25 199.04 L621.12 199.04 L633 200.72" fill="none" stroke="#00ffff" stroke-width="1.2" stroke-linejoin="round"/>
<path d="M348 200.96 L359.88 199.04 L371.75 205.52 L383.62 204.08 L395.5 199.04 L407.38 199.04 L419.25 199.04 L431.12 200 L443 198.32 L454.88 193.76 L466.75 193.76 L478.62 190.64 L490.5 188.72 L502.38 194.24 L514.25 194.24 L526.12 193.76 L538 193.76 L549.88 191.12 L561.75 196.16 L573.62 189.2 L585.5 180.56 L597.38 179.36 L609.25 188.72 L621.12 190.88 L633 191.36" fill="none" stroke="#00ff00" stroke-width="1.2" stroke-linejoin="round"/>
<path d="M348 190.64 L359.88 186.32 L371.75 193.76 L383.62 200.96 L395.5 205.52 L407.38 208.4 L419.25 189.2 L431.12 193.76 L443 188.24 L454.88 188.72 L466.75 174.8 L478.62 158 L490.5 168.08 L502.38 162.8 L514.25 165.44 L526.12 165.44 L538 162.8 L549.88 177.2 L561.75 186.8 L573.62 188.72 L585.5 184.16 L597.38 184.16 L609.25 178.88 L621.12 134.48 L633 138.8" fill="none" stroke="#0000ff" stroke-width="1.2" stroke-linejoin="round"/>
<path d="M348 138.8 L359.88 148.64 L371.75 177.68 L383.62 208.16 L395.5 205.52 L407.38 208.4 L419.25 199.04 L431.12 200.96 L443 190.64 L454.88 199.04 L466.75 203.12 L478.62 198.32 L490.5 196.4 L502.38 199.04 L514.25 199.04 L526.12 188.72 L538 153.2 L549.88 150.56 L561.75 181.76 L573.62 177.44 L585.5 203.36 L597.38 199.04 L609.25 182 L621.12 190.88 L633 181.76" fill="none" stroke="#ff0000" stroke-width="1.2" stroke-linejoin="round"/>
</g>
<path d="M348 218v-6M348 134v6M371.75 218v-4M371.75 134v4M395.5 218v-6M395.5 134v6M419.25 218v-4M419.25 134v4M443 218v-6M443 134v6M466.75 218v-4M466.75 134v4M490.5 218v-6M490.5 134v6M514.25 218v-4M514.25 134v4M538 218v-6M538 134v6M561.75 218v-4M561.75 134v4M585.5 218v-6M585.5 134v6M609.25 218v-4M609.25 134v4M633 218v-6M633 134v6M348 218h6M633 218h-6M348 212h4M633 212h-4M348 206h6M633 206h-6M348 200h4M633 200h-4M348 194h6M633 194h-6M348 188h4M633 188h-4M348 182h6M633 182h-6M348 176h4M633 176h-4M348 170h6M633 170h-6M348 164h4M633 164h-4M348 158h6M633 158h-6M348 152h4M633 152h-4M348 146h6M633 146h-6M348 140h4M633 140h-4M348 134h6M633 134h-6" stroke="#000" stroke-width="1" fill="none"/>
<rect x="348" y="134" width="285" height="84" fill="none" stroke="#1c1c1c" stroke-width="2"/>
<g clip-path="url(#c3)">
<path d="M345.2 205.52L350.8 205.52M348 202.72L348 208.32M345.2 202.72L350.8 208.32M345.2 208.32L350.8 202.72M357.07 208.64L362.68 208.64M359.88 205.84L359.88 211.44M357.07 205.84L362.68 211.44M357.07 211.44L362.68 205.84M368.95 205.52L374.55 205.52M371.75 202.72L371.75 208.32M368.95 202.72L374.55 208.32M368.95 208.32L374.55 202.72M380.82 204.8L386.43 204.8M383.62 202L383.62 207.6M380.82 202L386.43 207.6M380.82 207.6L386.43 202M392.7 205.04L398.3 205.04M395.5 202.24L395.5 207.84M392.7 202.24L398.3 207.84M392.7 207.84L398.3 202.24M404.57 199.52L410.18 199.52M407.38 196.72L407.38 202.32M404.57 196.72L410.18 202.32M404.57 202.32L410.18 196.72M416.45 194.72L422.05 194.72M419.25 191.92L419.25 197.52M416.45 191.92L422.05 197.52M416.45 197.52L422.05 191.92M428.32 206L433.93 206M431.12 203.2L431.12 208.8M428.32 203.2L433.93 208.8M428.32 208.8L433.93 203.2M440.2 203.12L445.8 203.12M443 200.32L443 205.92M440.2 200.32L445.8 205.92M440.2 205.92L445.8 200.32M452.07 193.76L457.68 193.76M454.88 190.96L454.88 196.56M452.07 190.96L457.68 196.56M452.07 196.56L457.68 190.96M463.95 196.4L469.55 196.4M466.75 193.6L466.75 199.2M463.95 193.6L469.55 199.2M463.95 199.2L469.55 193.6M475.82 194L481.43 194M478.62 191.2L478.62 196.8M475.82 191.2L481.43 196.8M475.82 196.8L481.43 191.2M487.7 192.32L493.3 192.32M490.5 189.52L490.5 195.12M487.7 189.52L493.3 195.12M487.7 195.12L493.3 189.52M499.57 194L505.18 194M502.38 191.2L502.38 196.8M499.57 191.2L505.18 196.8M499.57 196.8L505.18 191.2M511.45 191.12L517.05 191.12M514.25 188.32L514.25 193.92M511.45 188.32L517.05 193.92M511.45 193.92L517.05 188.32M523.33 200.96L528.92 200.96M526.12 198.16L526.12 203.76M523.33 198.16L528.92 203.76M523.33 203.76L528.92 198.16M535.2 193.76L540.8 193.76M538 190.96L538 196.56M535.2 190.96L540.8 196.56M535.2 196.56L540.8 190.96M547.08 190.88L552.67 190.88M549.88 188.08L549.88 193.68M547.08 188.08L552.67 193.68M547.08 193.68L552.67 188.08M558.95 186.8L564.55 186.8M561.75 184L561.75 189.6M558.95 184L564.55 189.6M558.95 189.6L564.55 184M570.83 189.68L576.42 189.68M573.62 186.88L573.62 192.48M570.83 186.88L576.42 192.48M570.83 192.48L576.42 186.88M582.7 190.64L588.3 190.64M585.5 187.84L585.5 193.44M582.7 187.84L588.3 193.44M582.7 193.44L588.3 187.84M594.58 199.04L600.17 199.04M597.38 196.24L597.38 201.84M594.58 196.24L600.17 201.84M594.58 201.84L600.17 196.24M606.45 199.04L612.05 199.04M609.25 196.24L609.25 201.84M606.45 196.24L612.05 201.84M606.45 201.84L612.05 196.24M618.33 199.04L623.92 199.04M621.12 196.24L621.12 201.84M618.33 196.24L623.92 201.84M618.33 201.84L623.92 196.24M630.2 200.72L635.8 200.72M633 197.92L633 203.52M630.2 197.92L635.8 203.52M630.2 203.52L635.8 197.92" fill="none" stroke="#00ffff" stroke-width="1.0"/>
<path d="M345.2 200.96L350.8 200.96M348 198.16L348 203.76M345.2 198.16L350.8 203.76M345.2 203.76L350.8 198.16M357.07 199.04L362.68 199.04M359.88 196.24L359.88 201.84M357.07 196.24L362.68 201.84M357.07 201.84L362.68 196.24M368.95 205.52L374.55 205.52M371.75 202.72L371.75 208.32M368.95 202.72L374.55 208.32M368.95 208.32L374.55 202.72M380.82 204.08L386.43 204.08M383.62 201.28L383.62 206.88M380.82 201.28L386.43 206.88M380.82 206.88L386.43 201.28M392.7 199.04L398.3 199.04M395.5 196.24L395.5 201.84M392.7 196.24L398.3 201.84M392.7 201.84L398.3 196.24M404.57 199.04L410.18 199.04M407.38 196.24L407.38 201.84M404.57 196.24L410.18 201.84M404.57 201.84L410.18 196.24M416.45 199.04L422.05 199.04M419.25 196.24L419.25 201.84M416.45 196.24L422.05 201.84M416.45 201.84L422.05 196.24M428.32 200L433.93 200M431.12 197.2L431.12 202.8M428.32 197.2L433.93 202.8M428.32 202.8L433.93 197.2M440.2 198.32L445.8 198.32M443 195.52L443 201.12M440.2 195.52L445.8 201.12M440.2 201.12L445.8 195.52M452.07 193.76L457.68 193.76M454.88 190.96L454.88 196.56M452.07 190.96L457.68 196.56M452.07 196.56L457.68 190.96M463.95 193.76L469.55 193.76M466.75 190.96L466.75 196.56M463.95 190.96L469.55 196.56M463.95 196.56L469.55 190.96M475.82 190.64L481.43 190.64M478.62 187.84L478.62 193.44M475.82 187.84L481.43 193.44M475.82 193.44L481.43 187.84M487.7 188.72L493.3 188.72M490.5 185.92L490.5 191.52M487.7 185.92L493.3 191.52M487.7 191.52L493.3 185.92M499.57 194.24L505.18 194.24M502.38 191.44L502.38 197.04M499.57 191.44L505.18 197.04M499.57 197.04L505.18 191.44M511.45 194.24L517.05 194.24M514.25 191.44L514.25 197.04M511.45 191.44L517.05 197.04M511.45 197.04L517.05 191.44M523.33 193.76L528.92 193.76M526.12 190.96L526.12 196.56M523.33 190.96L528.92 196.56M523.33 196.56L528.92 190.96M535.2 193.76L540.8 193.76M538 190.96L538 196.56M535.2 190.96L540.8 196.56M535.2 196.56L540.8 190.96M547.08 191.12L552.67 191.12M549.88 188.32L549.88 193.92M547.08 188.32L552.67 193.92M547.08 193.92L552.67 188.32M558.95 196.16L564.55 196.16M561.75 193.36L561.75 198.96M558.95 193.36L564.55 198.96M558.95 198.96L564.55 193.36M570.83 189.2L576.42 189.2M573.62 186.4L573.62 192M570.83 186.4L576.42 192M570.83 192L576.42 186.4M582.7 180.56L588.3 180.56M585.5 177.76L585.5 183.36M582.7 177.76L588.3 183.36M582.7 183.36L588.3 177.76M594.58 179.36L600.17 179.36M597.38 176.56L597.38 182.16M594.58 176.56L600.17 182.16M594.58 182.16L600.17 176.56M606.45 188.72L612.05 188.72M609.25 185.92L609.25 191.52M606.45 185.92L612.05 191.52M606.45 191.52L612.05 185.92M618.33 190.88L623.92 190.88M621.12 188.08L621.12 193.68M618.33 188.08L623.92 193.68M618.33 193.68L623.92 188.08M630.2 191.36L635.8 191.36M633 188.56L633 194.16M630.2 188.56L635.8 194.16M630.2 194.16L635.8 188.56" fill="none" stroke="#00ff00" stroke-width="1.0"/>
<path d="M345.2 190.64L350.8 190.64M348 187.84L348 193.44M345.2 187.84L350.8 193.44M345.2 193.44L350.8 187.84M357.07 186.32L362.68 186.32M359.88 183.52L359.88 189.12M357.07 183.52L362.68 189.12M357.07 189.12L362.68 183.52M368.95 193.76L374.55 193.76M371.75 190.96L371.75 196.56M368.95 190.96L374.55 196.56M368.95 196.56L374.55 190.96M380.82 200.96L386.43 200.96M383.62 198.16L383.62 203.76M380.82 198.16L386.43 203.76M380.82 203.76L386.43 198.16M392.7 205.52L398.3 205.52M395.5 202.72L395.5 208.32M392.7 202.72L398.3 208.32M392.7 208.32L398.3 202.72M404.57 208.4L410.18 208.4M407.38 205.6L407.38 211.2M404.57 205.6L410.18 211.2M404.57 211.2L410.18 205.6M416.45 189.2L422.05 189.2M419.25 186.4L419.25 192M416.45 186.4L422.05 192M416.45 192L422.05 186.4M428.32 193.76L433.93 193.76M431.12 190.96L431.12 196.56M428.32 190.96L433.93 196.56M428.32 196.56L433.93 190.96M440.2 188.24L445.8 188.24M443 185.44L443 191.04M440.2 185.44L445.8 191.04M440.2 191.04L445.8 185.44M452.07 188.72L457.68 188.72M454.88 185.92L454.88 191.52M452.07 185.92L457.68 191.52M452.07 191.52L457.68 185.92M463.95 174.8L469.55 174.8M466.75 172L466.75 177.6M463.95 172L469.55 177.6M463.95 177.6L469.55 172M475.82 158L481.43 158M478.62 155.2L478.62 160.8M475.82 155.2L481.43 160.8M475.82 160.8L481.43 155.2M487.7 168.08L493.3 168.08M490.5 165.28L490.5 170.88M487.7 165.28L493.3 170.88M487.7 170.88L493.3 165.28M499.57 162.8L505.18 162.8M502.38 160L502.38 165.6M499.57 160L505.18 165.6M499.57 165.6L505.18 160M511.45 165.44L517.05 165.44M514.25 162.64L514.25 168.24M511.45 162.64L517.05 168.24M511.45 168.24L517.05 162.64M523.33 165.44L528.92 165.44M526.12 162.64L526.12 168.24M523.33 162.64L528.92 168.24M523.33 168.24L528.92 162.64M535.2 162.8L540.8 162.8M538 160L538 165.6M535.2 160L540.8 165.6M535.2 165.6L540.8 160M547.08 177.2L552.67 177.2M549.88 174.4L549.88 180M547.08 174.4L552.67 180M547.08 180L552.67 174.4M558.95 186.8L564.55 186.8M561.75 184L561.75 189.6M558.95 184L564.55 189.6M558.95 189.6L564.55 184M570.83 188.72L576.42 188.72M573.62 185.92L573.62 191.52M570.83 185.92L576.42 191.52M570.83 191.52L576.42 185.92M582.7 184.16L588.3 184.16M585.5 181.36L585.5 186.96M582.7 181.36L588.3 186.96M582.7 186.96L588.3 181.36M594.58 184.16L600.17 184.16M597.38 181.36L597.38 186.96M594.58 181.36L600.17 186.96M594.58 186.96L600.17 181.36M606.45 178.88L612.05 178.88M609.25 176.08L609.25 181.68M606.45 176.08L612.05 181.68M606.45 181.68L612.05 176.08M618.33 134.48L623.92 134.48M621.12 131.68L621.12 137.28M618.33 131.68L623.92 137.28M618.33 137.28L623.92 131.68M630.2 138.8L635.8 138.8M633 136L633 141.6M630.2 136L635.8 141.6M630.2 141.6L635.8 136" fill="none" stroke="#0000ff" stroke-width="1.0"/>
<path d="M345.2 138.8L350.8 138.8M348 136L348 141.6M345.2 136L350.8 141.6M345.2 141.6L350.8 136M357.07 148.64L362.68 148.64M359.88 145.84L359.88 151.44M357.07 145.84L362.68 151.44M357.07 151.44L362.68 145.84M368.95 177.68L374.55 177.68M371.75 174.88L371.75 180.48M368.95 174.88L374.55 180.48M368.95 180.48L374.55 174.88M380.82 208.16L386.43 208.16M383.62 205.36L383.62 210.96M380.82 205.36L386.43 210.96M380.82 210.96L386.43 205.36M392.7 205.52L398.3 205.52M395.5 202.72L395.5 208.32M392.7 202.72L398.3 208.32M392.7 208.32L398.3 202.72M404.57 208.4L410.18 208.4M407.38 205.6L407.38 211.2M404.57 205.6L410.18 211.2M404.57 211.2L410.18 205.6M416.45 199.04L422.05 199.04M419.25 196.24L419.25 201.84M416.45 196.24L422.05 201.84M416.45 201.84L422.05 196.24M428.32 200.96L433.93 200.96M431.12 198.16L431.12 203.76M428.32 198.16L433.93 203.76M428.32 203.76L433.93 198.16M440.2 190.64L445.8 190.64M443 187.84L443 193.44M440.2 187.84L445.8 193.44M440.2 193.44L445.8 187.84M452.07 199.04L457.68 199.04M454.88 196.24L454.88 201.84M452.07 196.24L457.68 201.84M452.07 201.84L457.68 196.24M463.95 203.12L469.55 203.12M466.75 200.32L466.75 205.92M463.95 200.32L469.55 205.92M463.95 205.92L469.55 200.32M475.82 198.32L481.43 198.32M478.62 195.52L478.62 201.12M475.82 195.52L481.43 201.12M475.82 201.12L481.43 195.52M487.7 196.4L493.3 196.4M490.5 193.6L490.5 199.2M487.7 193.6L493.3 199.2M487.7 199.2L493.3 193.6M499.57 199.04L505.18 199.04M502.38 196.24L502.38 201.84M499.57 196.24L505.18 201.84M499.57 201.84L505.18 196.24M511.45 199.04L517.05 199.04M514.25 196.24L514.25 201.84M511.45 196.24L517.05 201.84M511.45 201.84L517.05 196.24M523.33 188.72L528.92 188.72M526.12 185.92L526.12 191.52M523.33 185.92L528.92 191.52M523.33 191.52L528.92 185.92M535.2 153.2L540.8 153.2M538 150.4L538 156M535.2 150.4L540.8 156M535.2 156L540.8 150.4M547.08 150.56L552.67 150.56M549.88 147.76L549.88 153.36M547.08 147.76L552.67 153.36M547.08 153.36L552.67 147.76M558.95 181.76L564.55 181.76M561.75 178.96L561.75 184.56M558.95 178.96L564.55 184.56M558.95 184.56L564.55 178.96M570.83 177.44L576.42 177.44M573.62 174.64L573.62 180.24M570.83 174.64L576.42 180.24M570.83 180.24L576.42 174.64M582.7 203.36L588.3 203.36M585.5 200.56L585.5 206.16M582.7 200.56L588.3 206.16M582.7 206.16L588.3 200.56M594.58 199.04L600.17 199.04M597.38 196.24L597.38 201.84M594.58 196.24L600.17 201.84M594.58 201.84L600.17 196.24M606.45 182L612.05 182M609.25 179.2L609.25 184.8M606.45 179.2L612.05 184.8M606.45 184.8L612.05 179.2M618.33 190.88L623.92 190.88M621.12 188.08L621.12 193.68M618.33 188.08L623.92 193.68M618.33 193.68L623.92 188.08M630.2 181.76L635.8 181.76M633 178.96L633 184.56M630.2 178.96L635.8 184.56M630.2 184.56L635.8 178.96" fill="none" stroke="#ff0000" stroke-width="1.0"/>
</g>
<path d="M349 206H632M349 194H632M349 182H632M349 170H632M349 158H632M349 146H632" stroke="#444" stroke-width="1.4" stroke-dasharray="1.5,1.5" fill="none"/>
<path d="M395.5 135V217M443 135V217M490.5 135V217M538 135V217M585.5 135V217" stroke="#000" stroke-width="1.0" stroke-dasharray="1,2" fill="none"/>
<g class="t"><text x="343" y="221" text-anchor="end">10</text><text x="343" y="209" text-anchor="end">15</text><text x="343" y="197" text-anchor="end">20</text><text x="343" y="185" text-anchor="end">25</text><text x="343" y="173" text-anchor="end">30</text><text x="343" y="161" text-anchor="end">35</text><text x="343" y="149" text-anchor="end">40</text><text x="343" y="137" text-anchor="end">45</text><text x="348" y="229" text-anchor="middle">0</text><text x="395.5" y="229" text-anchor="middle">4</text><text x="443" y="229" text-anchor="middle">8</text><text x="490.5" y="229" text-anchor="middle">12</text><text x="538" y="229" text-anchor="middle">16</text><text x="585.5" y="229" text-anchor="middle">20</text><text x="633" y="229" text-anchor="middle">24</text></g>
<text class="pt" x="634" y="130.7" text-anchor="end" textLength="56" lengthAdjust="spacing">RSP (ug/m3)</text>
<g clip-path="url(#c4)">
<path d="M673 203.6 L684.88 204.8 L696.75 206.24 L708.62 204.8 L720.5 203.6 L732.38 196.4 L744.25 193.52 L756.12 203.6 L768 203.6 L779.88 194 L791.75 196.4 L803.62 195.2 L815.5 193.52 L827.38 201.44 L839.25 193.52 L851.12 202.64 L863 196.88 L874.88 196.88 L886.75 191.36 L898.62 194 L910.5 198.8 L922.38 203.12 L934.25 203.12 L946.12 203.12 L958 206.48" fill="none" stroke="#00ffff" stroke-width="1.2" stroke-linejoin="round"/>
<path d="M673 207.92 L684.88 206.72 L696.75 208.4 L708.62 208.88 L720.5 205.52 L732.38 205.04 L744.25 206.24 L756.12 208.88 L768 203.12 L779.88 200.24 L791.75 201.44 L803.62 203.6 L815.5 201.44 L827.38 206.48 L839.25 208.88 L851.12 206.48 L863 206 L874.88 206 L886.75 213.44 L898.62 206 L910.5 200.24 L922.38 196.4 L934.25 206 L946.12 208.88 L958 208.88" fill="none" stroke="#00ff00" stroke-width="1.2" stroke-linejoin="round"/>
<path d="M673 208.64 L684.88 203.6 L696.75 211.76 L708.62 206.72 L720.5 206.24 L732.38 203.6 L744.25 186.32 L756.12 196.4 L768 193.52 L779.88 194 L791.75 186.56 L803.62 178.88 L815.5 186.08 L827.38 182 L839.25 186.56 L851.12 188.96 L863 186.08 L874.88 196.4 L886.75 203.12 L898.62 199.28 L910.5 194 L922.38 194 L934.25 191.36 L946.12 138.8 L958 141.2" fill="none" stroke="#0000ff" stroke-width="1.2" stroke-linejoin="round"/>
<path d="M673 141.2 L684.88 151.04 L696.75 177.68 L708.62 203.36 L720.5 201.2 L732.38 206.24 L744.25 199.04 L756.12 202.88 L768 196.4 L779.88 203.6 L791.75 201.44 L803.62 199.04 L815.5 199.04 L827.38 199.04 L839.25 203.12 L851.12 201.44 L863 188.48 L874.88 177.2 L886.75 186.8 L898.62 181.76 L910.5 203.12 L922.38 198.56 L934.25 186.8 L946.12 194 L958 190.64" fill="none" stroke="#ff0000" stroke-width="1.2" stroke-linejoin="round"/>
</g>
<path d="M673 218v-6M673 134v6M696.75 218v-4M696.75 134v4M720.5 218v-6M720.5 134v6M744.25 218v-4M744.25 134v4M768 218v-6M768 134v6M791.75 218v-4M791.75 134v4M815.5 218v-6M815.5 134v6M839.25 218v-4M839.25 134v4M863 218v-6M863 134v6M886.75 218v-4M886.75 134v4M910.5 218v-6M910.5 134v6M934.25 218v-4M934.25 134v4M958 218v-6M958 134v6M673 218h6M958 218h-6M673 212h4M958 212h-4M673 206h6M958 206h-6M673 200h4M958 200h-4M673 194h6M958 194h-6M673 188h4M958 188h-4M673 182h6M958 182h-6M673 176h4M958 176h-4M673 170h6M958 170h-6M673 164h4M958 164h-4M673 158h6M958 158h-6M673 152h4M958 152h-4M673 146h6M958 146h-6M673 140h4M958 140h-4M673 134h6M958 134h-6" stroke="#000" stroke-width="1" fill="none"/>
<rect x="673" y="134" width="285" height="84" fill="none" stroke="#1c1c1c" stroke-width="2"/>
<g clip-path="url(#c4)">
<path d="M670.2 203.6L675.8 203.6M673 200.8L673 206.4M670.2 200.8L675.8 206.4M670.2 206.4L675.8 200.8M682.08 204.8L687.67 204.8M684.88 202L684.88 207.6M682.08 202L687.67 207.6M682.08 207.6L687.67 202M693.95 206.24L699.55 206.24M696.75 203.44L696.75 209.04M693.95 203.44L699.55 209.04M693.95 209.04L699.55 203.44M705.83 204.8L711.42 204.8M708.62 202L708.62 207.6M705.83 202L711.42 207.6M705.83 207.6L711.42 202M717.7 203.6L723.3 203.6M720.5 200.8L720.5 206.4M717.7 200.8L723.3 206.4M717.7 206.4L723.3 200.8M729.58 196.4L735.17 196.4M732.38 193.6L732.38 199.2M729.58 193.6L735.17 199.2M729.58 199.2L735.17 193.6M741.45 193.52L747.05 193.52M744.25 190.72L744.25 196.32M741.45 190.72L747.05 196.32M741.45 196.32L747.05 190.72M753.33 203.6L758.92 203.6M756.12 200.8L756.12 206.4M753.33 200.8L758.92 206.4M753.33 206.4L758.92 200.8M765.2 203.6L770.8 203.6M768 200.8L768 206.4M765.2 200.8L770.8 206.4M765.2 206.4L770.8 200.8M777.08 194L782.67 194M779.88 191.2L779.88 196.8M777.08 191.2L782.67 196.8M777.08 196.8L782.67 191.2M788.95 196.4L794.55 196.4M791.75 193.6L791.75 199.2M788.95 193.6L794.55 199.2M788.95 199.2L794.55 193.6M800.83 195.2L806.42 195.2M803.62 192.4L803.62 198M800.83 192.4L806.42 198M800.83 198L806.42 192.4M812.7 193.52L818.3 193.52M815.5 190.72L815.5 196.32M812.7 190.72L818.3 196.32M812.7 196.32L818.3 190.72M824.58 201.44L830.17 201.44M827.38 198.64L827.38 204.24M824.58 198.64L830.17 204.24M824.58 204.24L830.17 198.64M836.45 193.52L842.05 193.52M839.25 190.72L839.25 196.32M836.45 190.72L842.05 196.32M836.45 196.32L842.05 190.72M848.33 202.64L853.92 202.64M851.12 199.84L851.12 205.44M848.33 199.84L853.92 205.44M848.33 205.44L853.92 199.84M860.2 196.88L865.8 196.88M863 194.08L863 199.68M860.2 194.08L865.8 199.68M860.2 199.68L865.8 194.08M872.08 196.88L877.67 196.88M874.88 194.08L874.88 199.68M872.08 194.08L877.67 199.68M872.08 199.68L877.67 194.08M883.95 191.36L889.55 191.36M886.75 188.56L886.75 194.16M883.95 188.56L889.55 194.16M883.95 194.16L889.55 188.56M895.83 194L901.42 194M898.62 191.2L898.62 196.8M895.83 191.2L901.42 196.8M895.83 196.8L901.42 191.2M907.7 198.8L913.3 198.8M910.5 196L910.5 201.6M907.7 196L913.3 201.6M907.7 201.6L913.3 196M919.58 203.12L925.17 203.12M922.38 200.32L922.38 205.92M919.58 200.32L925.17 205.92M919.58 205.92L925.17 200.32M931.45 203.12L937.05 203.12M934.25 200.32L934.25 205.92M931.45 200.32L937.05 205.92M931.45 205.92L937.05 200.32M943.33 203.12L948.92 203.12M946.12 200.32L946.12 205.92M943.33 200.32L948.92 205.92M943.33 205.92L948.92 200.32M955.2 206.48L960.8 206.48M958 203.68L958 209.28M955.2 203.68L960.8 209.28M955.2 209.28L960.8 203.68" fill="none" stroke="#00ffff" stroke-width="1.0"/>
<path d="M670.2 207.92L675.8 207.92M673 205.12L673 210.72M670.2 205.12L675.8 210.72M670.2 210.72L675.8 205.12M682.08 206.72L687.67 206.72M684.88 203.92L684.88 209.52M682.08 203.92L687.67 209.52M682.08 209.52L687.67 203.92M693.95 208.4L699.55 208.4M696.75 205.6L696.75 211.2M693.95 205.6L699.55 211.2M693.95 211.2L699.55 205.6M705.83 208.88L711.42 208.88M708.62 206.08L708.62 211.68M705.83 206.08L711.42 211.68M705.83 211.68L711.42 206.08M717.7 205.52L723.3 205.52M720.5 202.72L720.5 208.32M717.7 202.72L723.3 208.32M717.7 208.32L723.3 202.72M729.58 205.04L735.17 205.04M732.38 202.24L732.38 207.84M729.58 202.24L735.17 207.84M729.58 207.84L735.17 202.24M741.45 206.24L747.05 206.24M744.25 203.44L744.25 209.04M741.45 203.44L747.05 209.04M741.45 209.04L747.05 203.44M753.33 208.88L758.92 208.88M756.12 206.08L756.12 211.68M753.33 206.08L758.92 211.68M753.33 211.68L758.92 206.08M765.2 203.12L770.8 203.12M768 200.32L768 205.92M765.2 200.32L770.8 205.92M765.2 205.92L770.8 200.32M777.08 200.24L782.67 200.24M779.88 197.44L779.88 203.04M777.08 197.44L782.67 203.04M777.08 203.04L782.67 197.44M788.95 201.44L794.55 201.44M791.75 198.64L791.75 204.24M788.95 198.64L794.55 204.24M788.95 204.24L794.55 198.64M800.83 203.6L806.42 203.6M803.62 200.8L803.62 206.4M800.83 200.8L806.42 206.4M800.83 206.4L806.42 200.8M812.7 201.44L818.3 201.44M815.5 198.64L815.5 204.24M812.7 198.64L818.3 204.24M812.7 204.24L818.3 198.64M824.58 206.48L830.17 206.48M827.38 203.68L827.38 209.28M824.58 203.68L830.17 209.28M824.58 209.28L830.17 203.68M836.45 208.88L842.05 208.88M839.25 206.08L839.25 211.68M836.45 206.08L842.05 211.68M836.45 211.68L842.05 206.08M848.33 206.48L853.92 206.48M851.12 203.68L851.12 209.28M848.33 203.68L853.92 209.28M848.33 209.28L853.92 203.68M860.2 206L865.8 206M863 203.2L863 208.8M860.2 203.2L865.8 208.8M860.2 208.8L865.8 203.2M872.08 206L877.67 206M874.88 203.2L874.88 208.8M872.08 203.2L877.67 208.8M872.08 208.8L877.67 203.2M883.95 213.44L889.55 213.44M886.75 210.64L886.75 216.24M883.95 210.64L889.55 216.24M883.95 216.24L889.55 210.64M895.83 206L901.42 206M898.62 203.2L898.62 208.8M895.83 203.2L901.42 208.8M895.83 208.8L901.42 203.2M907.7 200.24L913.3 200.24M910.5 197.44L910.5 203.04M907.7 197.44L913.3 203.04M907.7 203.04L913.3 197.44M919.58 196.4L925.17 196.4M922.38 193.6L922.38 199.2M919.58 193.6L925.17 199.2M919.58 199.2L925.17 193.6M931.45 206L937.05 206M934.25 203.2L934.25 208.8M931.45 203.2L937.05 208.8M931.45 208.8L937.05 203.2M943.33 208.88L948.92 208.88M946.12 206.08L946.12 211.68M943.33 206.08L948.92 211.68M943.33 211.68L948.92 206.08M955.2 208.88L960.8 208.88M958 206.08L958 211.68M955.2 206.08L960.8 211.68M955.2 211.68L960.8 206.08" fill="none" stroke="#00ff00" stroke-width="1.0"/>
<path d="M670.2 208.64L675.8 208.64M673 205.84L673 211.44M670.2 205.84L675.8 211.44M670.2 211.44L675.8 205.84M682.08 203.6L687.67 203.6M684.88 200.8L684.88 206.4M682.08 200.8L687.67 206.4M682.08 206.4L687.67 200.8M693.95 211.76L699.55 211.76M696.75 208.96L696.75 214.56M693.95 208.96L699.55 214.56M693.95 214.56L699.55 208.96M705.83 206.72L711.42 206.72M708.62 203.92L708.62 209.52M705.83 203.92L711.42 209.52M705.83 209.52L711.42 203.92M717.7 206.24L723.3 206.24M720.5 203.44L720.5 209.04M717.7 203.44L723.3 209.04M717.7 209.04L723.3 203.44M729.58 203.6L735.17 203.6M732.38 200.8L732.38 206.4M729.58 200.8L735.17 206.4M729.58 206.4L735.17 200.8M741.45 186.32L747.05 186.32M744.25 183.52L744.25 189.12M741.45 183.52L747.05 189.12M741.45 189.12L747.05 183.52M753.33 196.4L758.92 196.4M756.12 193.6L756.12 199.2M753.33 193.6L758.92 199.2M753.33 199.2L758.92 193.6M765.2 193.52L770.8 193.52M768 190.72L768 196.32M765.2 190.72L770.8 196.32M765.2 196.32L770.8 190.72M777.08 194L782.67 194M779.88 191.2L779.88 196.8M777.08 191.2L782.67 196.8M777.08 196.8L782.67 191.2M788.95 186.56L794.55 186.56M791.75 183.76L791.75 189.36M788.95 183.76L794.55 189.36M788.95 189.36L794.55 183.76M800.83 178.88L806.42 178.88M803.62 176.08L803.62 181.68M800.83 176.08L806.42 181.68M800.83 181.68L806.42 176.08M812.7 186.08L818.3 186.08M815.5 183.28L815.5 188.88M812.7 183.28L818.3 188.88M812.7 188.88L818.3 183.28M824.58 182L830.17 182M827.38 179.2L827.38 184.8M824.58 179.2L830.17 184.8M824.58 184.8L830.17 179.2M836.45 186.56L842.05 186.56M839.25 183.76L839.25 189.36M836.45 183.76L842.05 189.36M836.45 189.36L842.05 183.76M848.33 188.96L853.92 188.96M851.12 186.16L851.12 191.76M848.33 186.16L853.92 191.76M848.33 191.76L853.92 186.16M860.2 186.08L865.8 186.08M863 183.28L863 188.88M860.2 183.28L865.8 188.88M860.2 188.88L865.8 183.28M872.08 196.4L877.67 196.4M874.88 193.6L874.88 199.2M872.08 193.6L877.67 199.2M872.08 199.2L877.67 193.6M883.95 203.12L889.55 203.12M886.75 200.32L886.75 205.92M883.95 200.32L889.55 205.92M883.95 205.92L889.55 200.32M895.83 199.28L901.42 199.28M898.62 196.48L898.62 202.08M895.83 196.48L901.42 202.08M895.83 202.08L901.42 196.48M907.7 194L913.3 194M910.5 191.2L910.5 196.8M907.7 191.2L913.3 196.8M907.7 196.8L913.3 191.2M919.58 194L925.17 194M922.38 191.2L922.38 196.8M919.58 191.2L925.17 196.8M919.58 196.8L925.17 191.2M931.45 191.36L937.05 191.36M934.25 188.56L934.25 194.16M931.45 188.56L937.05 194.16M931.45 194.16L937.05 188.56M943.33 138.8L948.92 138.8M946.12 136L946.12 141.6M943.33 136L948.92 141.6M943.33 141.6L948.92 136M955.2 141.2L960.8 141.2M958 138.4L958 144M955.2 138.4L960.8 144M955.2 144L960.8 138.4" fill="none" stroke="#0000ff" stroke-width="1.0"/>
<path d="M670.2 141.2L675.8 141.2M673 138.4L673 144M670.2 138.4L675.8 144M670.2 144L675.8 138.4M682.08 151.04L687.67 151.04M684.88 148.24L684.88 153.84M682.08 148.24L687.67 153.84M682.08 153.84L687.67 148.24M693.95 177.68L699.55 177.68M696.75 174.88L696.75 180.48M693.95 174.88L699.55 180.48M693.95 180.48L699.55 174.88M705.83 203.36L711.42 203.36M708.62 200.56L708.62 206.16M705.83 200.56L711.42 206.16M705.83 206.16L711.42 200.56M717.7 201.2L723.3 201.2M720.5 198.4L720.5 204M717.7 198.4L723.3 204M717.7 204L723.3 198.4M729.58 206.24L735.17 206.24M732.38 203.44L732.38 209.04M729.58 203.44L735.17 209.04M729.58 209.04L735.17 203.44M741.45 199.04L747.05 199.04M744.25 196.24L744.25 201.84M741.45 196.24L747.05 201.84M741.45 201.84L747.05 196.24M753.33 202.88L758.92 202.88M756.12 200.08L756.12 205.68M753.33 200.08L758.92 205.68M753.33 205.68L758.92 200.08M765.2 196.4L770.8 196.4M768 193.6L768 199.2M765.2 193.6L770.8 199.2M765.2 199.2L770.8 193.6M777.08 203.6L782.67 203.6M779.88 200.8L779.88 206.4M777.08 200.8L782.67 206.4M777.08 206.4L782.67 200.8M788.95 201.44L794.55 201.44M791.75 198.64L791.75 204.24M788.95 198.64L794.55 204.24M788.95 204.24L794.55 198.64M800.83 199.04L806.42 199.04M803.62 196.24L803.62 201.84M800.83 196.24L806.42 201.84M800.83 201.84L806.42 196.24M812.7 199.04L818.3 199.04M815.5 196.24L815.5 201.84M812.7 196.24L818.3 201.84M812.7 201.84L818.3 196.24M824.58 199.04L830.17 199.04M827.38 196.24L827.38 201.84M824.58 196.24L830.17 201.84M824.58 201.84L830.17 196.24M836.45 203.12L842.05 203.12M839.25 200.32L839.25 205.92M836.45 200.32L842.05 205.92M836.45 205.92L842.05 200.32M848.33 201.44L853.92 201.44M851.12 198.64L851.12 204.24M848.33 198.64L853.92 204.24M848.33 204.24L853.92 198.64M860.2 188.48L865.8 188.48M863 185.68L863 191.28M860.2 185.68L865.8 191.28M860.2 191.28L865.8 185.68M872.08 177.2L877.67 177.2M874.88 174.4L874.88 180M872.08 174.4L877.67 180M872.08 180L877.67 174.4M883.95 186.8L889.55 186.8M886.75 184L886.75 189.6M883.95 184L889.55 189.6M883.95 189.6L889.55 184M895.83 181.76L901.42 181.76M898.62 178.96L898.62 184.56M895.83 178.96L901.42 184.56M895.83 184.56L901.42 178.96M907.7 203.12L913.3 203.12M910.5 200.32L910.5 205.92M907.7 200.32L913.3 205.92M907.7 205.92L913.3 200.32M919.58 198.56L925.17 198.56M922.38 195.76L922.38 201.36M919.58 195.76L925.17 201.36M919.58 201.36L925.17 195.76M931.45 186.8L937.05 186.8M934.25 184L934.25 189.6M931.45 184L937.05 189.6M931.45 189.6L937.05 184M943.33 194L948.92 194M946.12 191.2L946.12 196.8M943.33 191.2L948.92 196.8M943.33 196.8L948.92 191.2M955.2 190.64L960.8 190.64M958 187.84L958 193.44M955.2 187.84L960.8 193.44M955.2 193.44L960.8 187.84" fill="none" stroke="#ff0000" stroke-width="1.0"/>
</g>
<path d="M674 206H957M674 194H957M674 182H957M674 170H957M674 158H957M674 146H957" stroke="#444" stroke-width="1.4" stroke-dasharray="1.5,1.5" fill="none"/>
<path d="M720.5 135V217M768 135V217M815.5 135V217M863 135V217M910.5 135V217" stroke="#000" stroke-width="1.0" stroke-dasharray="1,2" fill="none"/>
<g class="t"><text x="668" y="221" text-anchor="end">5</text><text x="668" y="209" text-anchor="end">10</text><text x="668" y="197" text-anchor="end">15</text><text x="668" y="185" text-anchor="end">20</text><text x="668" y="173" text-anchor="end">25</text><text x="668" y="161" text-anchor="end">30</text><text x="668" y="149" text-anchor="end">35</text><text x="668" y="137" text-anchor="end">40</text><text x="673" y="229" text-anchor="middle">0</text><text x="720.5" y="229" text-anchor="middle">4</text><text x="768" y="229" text-anchor="middle">8</text><text x="815.5" y="229" text-anchor="middle">12</text><text x="863" y="229" text-anchor="middle">16</text><text x="910.5" y="229" text-anchor="middle">20</text><text x="958" y="229" text-anchor="middle">24</text></g>
<text class="pt" x="959" y="130.7" text-anchor="end" textLength="55.5" lengthAdjust="spacing">FSP (ug/m3)</text>
<g clip-path="url(#c5)">
<path d="M23 325.02 L34.88 323.9 L46.75 322.5 L58.62 321.8 L70.5 321.8 L82.38 317.6 L94.25 317.6 L106.12 317.6 L118 316.9 L129.88 319 L141.75 319 L153.62 319 L165.5 319 L177.38 320.4 L189.25 320.4 L201.12 320.05 L213 318.3 L224.88 318.3 L236.75 321.1 L248.62 321.1 L260.5 321.1 L272.38 323.9 L284.25 321.1 L296.12 323.9 L308 321.8" fill="none" stroke="#00ffff" stroke-width="1.2" stroke-linejoin="round"/>
<path d="M23 321.8 L34.88 323.9 L46.75 321.1 L58.62 321.1 L70.5 321.1 L82.38 321.1 L94.25 321.1 L106.12 321.1 L118 321.1 L129.88 319 L141.75 319 L153.62 319 L165.5 319 L177.38 323.9 L189.25 323.9 L201.12 321.1 L213 314.1 L224.88 297.3 L236.75 297.3 L248.62 285.4 L260.5 266.5 L272.38 304.3 L284.25 318.3 L296.12 321.1 L308 318.3" fill="none" stroke="#00ff00" stroke-width="1.2" stroke-linejoin="round"/>
<path d="M23 317.95 L34.88 317.95 L46.75 320.4 L58.62 319 L70.5 318.3 L82.38 313.4 L94.25 316.9 L106.12 310.6 L118 305 L129.88 316.2 L141.75 310.6 L153.62 307.8 L165.5 302.9 L177.38 293.8 L189.25 297.3 L201.12 275.6 L213 286.1 L224.88 309.9 L236.75 309.9 L248.62 288.2 L260.5 246.9 L272.38 288.9 L284.25 294.5 L296.12 270.7 L308 265.1" fill="none" stroke="#0000ff" stroke-width="1.2" stroke-linejoin="round"/>
<path d="M23 266.5 L34.88 296.6 L46.75 299.4 L58.62 305 L70.5 310.6 L82.38 307.8 L94.25 313.4 L106.12 305 L118 299.75 L129.88 283.3 L153.62 315.5 L165.5 318.3 L177.38 315.5 L189.25 315.5 L201.12 315.5 L213 310.6 L224.88 313.4 L236.75 302.2 L248.62 313.4 L260.5 316.2 L272.38 307.1 L284.25 313.4 L296.12 313.4 L308 313.4" fill="none" stroke="#ff0000" stroke-width="1.2" stroke-linejoin="round"/>
</g>
<path d="M23 326v-6M23 242v6M46.75 326v-4M46.75 242v4M70.5 326v-6M70.5 242v6M94.25 326v-4M94.25 242v4M118 326v-6M118 242v6M141.75 326v-4M141.75 242v4M165.5 326v-6M165.5 242v6M189.25 326v-4M189.25 242v4M213 326v-6M213 242v6M236.75 326v-4M236.75 242v4M260.5 326v-6M260.5 242v6M284.25 326v-4M284.25 242v4M308 326v-6M308 242v6M23 326h6M308 326h-6M23 319h4M308 319h-4M23 312h6M308 312h-6M23 305h4M308 305h-4M23 298h6M308 298h-6M23 291h4M308 291h-4M23 284h6M308 284h-6M23 277h4M308 277h-4M23 270h6M308 270h-6M23 263h4M308 263h-4M23 256h6M308 256h-6M23 249h4M308 249h-4M23 242h6M308 242h-6" stroke="#000" stroke-width="1" fill="none"/>
<rect x="23" y="242" width="285" height="84" fill="none" stroke="#1c1c1c" stroke-width="2"/>
<g clip-path="url(#c5)">
<path d="M20.2 325.02L25.8 325.02M23 322.22L23 327.82M20.2 322.22L25.8 327.82M20.2 327.82L25.8 322.22M32.08 323.9L37.67 323.9M34.88 321.1L34.88 326.7M32.08 321.1L37.67 326.7M32.08 326.7L37.67 321.1M43.95 322.5L49.55 322.5M46.75 319.7L46.75 325.3M43.95 319.7L49.55 325.3M43.95 325.3L49.55 319.7M55.83 321.8L61.42 321.8M58.62 319L58.62 324.6M55.83 319L61.42 324.6M55.83 324.6L61.42 319M67.7 321.8L73.3 321.8M70.5 319L70.5 324.6M67.7 319L73.3 324.6M67.7 324.6L73.3 319M79.58 317.6L85.17 317.6M82.38 314.8L82.38 320.4M79.58 314.8L85.17 320.4M79.58 320.4L85.17 314.8M91.45 317.6L97.05 317.6M94.25 314.8L94.25 320.4M91.45 314.8L97.05 320.4M91.45 320.4L97.05 314.8M103.33 317.6L108.92 317.6M106.12 314.8L106.12 320.4M103.33 314.8L108.92 320.4M103.33 320.4L108.92 314.8M115.2 316.9L120.8 316.9M118 314.1L118 319.7M115.2 314.1L120.8 319.7M115.2 319.7L120.8 314.1M127.08 319L132.68 319M129.88 316.2L129.88 321.8M127.08 316.2L132.68 321.8M127.08 321.8L132.68 316.2M138.95 319L144.55 319M141.75 316.2L141.75 321.8M138.95 316.2L144.55 321.8M138.95 321.8L144.55 316.2M150.82 319L156.43 319M153.62 316.2L153.62 321.8M150.82 316.2L156.43 321.8M150.82 321.8L156.43 316.2M162.7 319L168.3 319M165.5 316.2L165.5 321.8M162.7 316.2L168.3 321.8M162.7 321.8L168.3 316.2M174.57 320.4L180.18 320.4M177.38 317.6L177.38 323.2M174.57 317.6L180.18 323.2M174.57 323.2L180.18 317.6M186.45 320.4L192.05 320.4M189.25 317.6L189.25 323.2M186.45 317.6L192.05 323.2M186.45 323.2L192.05 317.6M198.32 320.05L203.93 320.05M201.12 317.25L201.12 322.85M198.32 317.25L203.93 322.85M198.32 322.85L203.93 317.25M210.2 318.3L215.8 318.3M213 315.5L213 321.1M210.2 315.5L215.8 321.1M210.2 321.1L215.8 315.5M222.07 318.3L227.68 318.3M224.88 315.5L224.88 321.1M222.07 315.5L227.68 321.1M222.07 321.1L227.68 315.5M233.95 321.1L239.55 321.1M236.75 318.3L236.75 323.9M233.95 318.3L239.55 323.9M233.95 323.9L239.55 318.3M245.82 321.1L251.43 321.1M248.62 318.3L248.62 323.9M245.82 318.3L251.43 323.9M245.82 323.9L251.43 318.3M257.7 321.1L263.3 321.1M260.5 318.3L260.5 323.9M257.7 318.3L263.3 323.9M257.7 323.9L263.3 318.3M269.57 323.9L275.18 323.9M272.38 321.1L272.38 326.7M269.57 321.1L275.18 326.7M269.57 326.7L275.18 321.1M281.45 321.1L287.05 321.1M284.25 318.3L284.25 323.9M281.45 318.3L287.05 323.9M281.45 323.9L287.05 318.3M293.32 323.9L298.93 323.9M296.12 321.1L296.12 326.7M293.32 321.1L298.93 326.7M293.32 326.7L298.93 321.1M305.2 321.8L310.8 321.8M308 319L308 324.6M305.2 319L310.8 324.6M305.2 324.6L310.8 319" fill="none" stroke="#00ffff" stroke-width="1.0"/>
<path d="M20.2 321.8L25.8 321.8M23 319L23 324.6M20.2 319L25.8 324.6M20.2 324.6L25.8 319M32.08 323.9L37.67 323.9M34.88 321.1L34.88 326.7M32.08 321.1L37.67 326.7M32.08 326.7L37.67 321.1M43.95 321.1L49.55 321.1M46.75 318.3L46.75 323.9M43.95 318.3L49.55 323.9M43.95 323.9L49.55 318.3M55.83 321.1L61.42 321.1M58.62 318.3L58.62 323.9M55.83 318.3L61.42 323.9M55.83 323.9L61.42 318.3M67.7 321.1L73.3 321.1M70.5 318.3L70.5 323.9M67.7 318.3L73.3 323.9M67.7 323.9L73.3 318.3M79.58 321.1L85.17 321.1M82.38 318.3L82.38 323.9M79.58 318.3L85.17 323.9M79.58 323.9L85.17 318.3M91.45 321.1L97.05 321.1M94.25 318.3L94.25 323.9M91.45 318.3L97.05 323.9M91.45 323.9L97.05 318.3M103.33 321.1L108.92 321.1M106.12 318.3L106.12 323.9M103.33 318.3L108.92 323.9M103.33 323.9L108.92 318.3M115.2 321.1L120.8 321.1M118 318.3L118 323.9M115.2 318.3L120.8 323.9M115.2 323.9L120.8 318.3M127.08 319L132.68 319M129.88 316.2L129.88 321.8M127.08 316.2L132.68 321.8M127.08 321.8L132.68 316.2M138.95 319L144.55 319M141.75 316.2L141.75 321.8M138.95 316.2L144.55 321.8M138.95 321.8L144.55 316.2M150.82 319L156.43 319M153.62 316.2L153.62 321.8M150.82 316.2L156.43 321.8M150.82 321.8L156.43 316.2M162.7 319L168.3 319M165.5 316.2L165.5 321.8M162.7 316.2L168.3 321.8M162.7 321.8L168.3 316.2M174.57 323.9L180.18 323.9M177.38 321.1L177.38 326.7M174.57 321.1L180.18 326.7M174.57 326.7L180.18 321.1M186.45 323.9L192.05 323.9M189.25 321.1L189.25 326.7M186.45 321.1L192.05 326.7M186.45 326.7L192.05 321.1M198.32 321.1L203.93 321.1M201.12 318.3L201.12 323.9M198.32 318.3L203.93 323.9M198.32 323.9L203.93 318.3M210.2 314.1L215.8 314.1M213 311.3L213 316.9M210.2 311.3L215.8 316.9M210.2 316.9L215.8 311.3M222.07 297.3L227.68 297.3M224.88 294.5L224.88 300.1M222.07 294.5L227.68 300.1M222.07 300.1L227.68 294.5M233.95 297.3L239.55 297.3M236.75 294.5L236.75 300.1M233.95 294.5L239.55 300.1M233.95 300.1L239.55 294.5M245.82 285.4L251.43 285.4M248.62 282.6L248.62 288.2M245.82 282.6L251.43 288.2M245.82 288.2L251.43 282.6M257.7 266.5L263.3 266.5M260.5 263.7L260.5 269.3M257.7 263.7L263.3 269.3M257.7 269.3L263.3 263.7M269.57 304.3L275.18 304.3M272.38 301.5L272.38 307.1M269.57 301.5L275.18 307.1M269.57 307.1L275.18 301.5M281.45 318.3L287.05 318.3M284.25 315.5L284.25 321.1M281.45 315.5L287.05 321.1M281.45 321.1L287.05 315.5M293.32 321.1L298.93 321.1M296.12 318.3L296.12 323.9M293.32 318.3L298.93 323.9M293.32 323.9L298.93 318.3M305.2 318.3L310.8 318.3M308 315.5L308 321.1M305.2 315.5L310.8 321.1M305.2 321.1L310.8 315.5" fill="none" stroke="#00ff00" stroke-width="1.0"/>
<path d="M20.2 317.95L25.8 317.95M23 315.15L23 320.75M20.2 315.15L25.8 320.75M20.2 320.75L25.8 315.15M32.08 317.95L37.67 317.95M34.88 315.15L34.88 320.75M32.08 315.15L37.67 320.75M32.08 320.75L37.67 315.15M43.95 320.4L49.55 320.4M46.75 317.6L46.75 323.2M43.95 317.6L49.55 323.2M43.95 323.2L49.55 317.6M55.83 319L61.42 319M58.62 316.2L58.62 321.8M55.83 316.2L61.42 321.8M55.83 321.8L61.42 316.2M67.7 318.3L73.3 318.3M70.5 315.5L70.5 321.1M67.7 315.5L73.3 321.1M67.7 321.1L73.3 315.5M79.58 313.4L85.17 313.4M82.38 310.6L82.38 316.2M79.58 310.6L85.17 316.2M79.58 316.2L85.17 310.6M91.45 316.9L97.05 316.9M94.25 314.1L94.25 319.7M91.45 314.1L97.05 319.7M91.45 319.7L97.05 314.1M103.33 310.6L108.92 310.6M106.12 307.8L106.12 313.4M103.33 307.8L108.92 313.4M103.33 313.4L108.92 307.8M115.2 305L120.8 305M118 302.2L118 307.8M115.2 302.2L120.8 307.8M115.2 307.8L120.8 302.2M127.08 316.2L132.68 316.2M129.88 313.4L129.88 319M127.08 313.4L132.68 319M127.08 319L132.68 313.4M138.95 310.6L144.55 310.6M141.75 307.8L141.75 313.4M138.95 307.8L144.55 313.4M138.95 313.4L144.55 307.8M150.82 307.8L156.43 307.8M153.62 305L153.62 310.6M150.82 305L156.43 310.6M150.82 310.6L156.43 305M162.7 302.9L168.3 302.9M165.5 300.1L165.5 305.7M162.7 300.1L168.3 305.7M162.7 305.7L168.3 300.1M174.57 293.8L180.18 293.8M177.38 291L177.38 296.6M174.57 291L180.18 296.6M174.57 296.6L180.18 291M186.45 297.3L192.05 297.3M189.25 294.5L189.25 300.1M186.45 294.5L192.05 300.1M186.45 300.1L192.05 294.5M198.32 275.6L203.93 275.6M201.12 272.8L201.12 278.4M198.32 272.8L203.93 278.4M198.32 278.4L203.93 272.8M210.2 286.1L215.8 286.1M213 283.3L213 288.9M210.2 283.3L215.8 288.9M210.2 288.9L215.8 283.3M222.07 309.9L227.68 309.9M224.88 307.1L224.88 312.7M222.07 307.1L227.68 312.7M222.07 312.7L227.68 307.1M233.95 309.9L239.55 309.9M236.75 307.1L236.75 312.7M233.95 307.1L239.55 312.7M233.95 312.7L239.55 307.1M245.82 288.2L251.43 288.2M248.62 285.4L248.62 291M245.82 285.4L251.43 291M245.82 291L251.43 285.4M257.7 246.9L263.3 246.9M260.5 244.1L260.5 249.7M257.7 244.1L263.3 249.7M257.7 249.7L263.3 244.1M269.57 288.9L275.18 288.9M272.38 286.1L272.38 291.7M269.57 286.1L275.18 291.7M269.57 291.7L275.18 286.1M281.45 294.5L287.05 294.5M284.25 291.7L284.25 297.3M281.45 291.7L287.05 297.3M281.45 297.3L287.05 291.7M293.32 270.7L298.93 270.7M296.12 267.9L296.12 273.5M293.32 267.9L298.93 273.5M293.32 273.5L298.93 267.9M305.2 265.1L310.8 265.1M308 262.3L308 267.9M305.2 262.3L310.8 267.9M305.2 267.9L310.8 262.3" fill="none" stroke="#0000ff" stroke-width="1.0"/>
<path d="M20.2 266.5L25.8 266.5M23 263.7L23 269.3M20.2 263.7L25.8 269.3M20.2 269.3L25.8 263.7M32.08 296.6L37.67 296.6M34.88 293.8L34.88 299.4M32.08 293.8L37.67 299.4M32.08 299.4L37.67 293.8M43.95 299.4L49.55 299.4M46.75 296.6L46.75 302.2M43.95 296.6L49.55 302.2M43.95 302.2L49.55 296.6M55.83 305L61.42 305M58.62 302.2L58.62 307.8M55.83 302.2L61.42 307.8M55.83 307.8L61.42 302.2M67.7 310.6L73.3 310.6M70.5 307.8L70.5 313.4M67.7 307.8L73.3 313.4M67.7 313.4L73.3 307.8M79.58 307.8L85.17 307.8M82.38 305L82.38 310.6M79.58 305L85.17 310.6M79.58 310.6L85.17 305M91.45 313.4L97.05 313.4M94.25 310.6L94.25 316.2M91.45 310.6L97.05 316.2M91.45 316.2L97.05 310.6M103.33 305L108.92 305M106.12 302.2L106.12 307.8M103.33 302.2L108.92 307.8M103.33 307.8L108.92 302.2M115.2 299.75L120.8 299.75M118 296.95L118 302.55M115.2 296.95L120.8 302.55M115.2 302.55L120.8 296.95M127.08 283.3L132.68 283.3M129.88 280.5L129.88 286.1M127.08 280.5L132.68 286.1M127.08 286.1L132.68 280.5M150.82 315.5L156.43 315.5M153.62 312.7L153.62 318.3M150.82 312.7L156.43 318.3M150.82 318.3L156.43 312.7M162.7 318.3L168.3 318.3M165.5 315.5L165.5 321.1M162.7 315.5L168.3 321.1M162.7 321.1L168.3 315.5M174.57 315.5L180.18 315.5M177.38 312.7L177.38 318.3M174.57 312.7L180.18 318.3M174.57 318.3L180.18 312.7M186.45 315.5L192.05 315.5M189.25 312.7L189.25 318.3M186.45 312.7L192.05 318.3M186.45 318.3L192.05 312.7M198.32 315.5L203.93 315.5M201.12 312.7L201.12 318.3M198.32 312.7L203.93 318.3M198.32 318.3L203.93 312.7M210.2 310.6L215.8 310.6M213 307.8L213 313.4M210.2 307.8L215.8 313.4M210.2 313.4L215.8 307.8M222.07 313.4L227.68 313.4M224.88 310.6L224.88 316.2M222.07 310.6L227.68 316.2M222.07 316.2L227.68 310.6M233.95 302.2L239.55 302.2M236.75 299.4L236.75 305M233.95 299.4L239.55 305M233.95 305L239.55 299.4M245.82 313.4L251.43 313.4M248.62 310.6L248.62 316.2M245.82 310.6L251.43 316.2M245.82 316.2L251.43 310.6M257.7 316.2L263.3 316.2M260.5 313.4L260.5 319M257.7 313.4L263.3 319M257.7 319L263.3 313.4M269.57 307.1L275.18 307.1M272.38 304.3L272.38 309.9M269.57 304.3L275.18 309.9M269.57 309.9L275.18 304.3M281.45 313.4L287.05 313.4M284.25 310.6L284.25 316.2M281.45 310.6L287.05 316.2M281.45 316.2L287.05 310.6M293.32 313.4L298.93 313.4M296.12 310.6L296.12 316.2M293.32 310.6L298.93 316.2M293.32 316.2L298.93 310.6M305.2 313.4L310.8 313.4M308 310.6L308 316.2M305.2 310.6L310.8 316.2M305.2 316.2L310.8 310.6" fill="none" stroke="#ff0000" stroke-width="1.0"/>
</g>
<path d="M24 312H307M24 298H307M24 284H307M24 270H307M24 256H307" stroke="#444" stroke-width="1.4" stroke-dasharray="1.5,1.5" fill="none"/>
<path d="M70.5 243V325M118 243V325M165.5 243V325M213 243V325M260.5 243V325" stroke="#000" stroke-width="1.0" stroke-dasharray="1,2" fill="none"/>
<g class="t"><text x="18" y="329" text-anchor="end">2</text><text x="18" y="315" text-anchor="end">4</text><text x="18" y="301" text-anchor="end">6</text><text x="18" y="287" text-anchor="end">8</text><text x="18" y="273" text-anchor="end">10</text><text x="18" y="259" text-anchor="end">12</text><text x="18" y="245" text-anchor="end">14</text><text x="23" y="337" text-anchor="middle">0</text><text x="70.5" y="337" text-anchor="middle">4</text><text x="118" y="337" text-anchor="middle">8</text><text x="165.5" y="337" text-anchor="middle">12</text><text x="213" y="337" text-anchor="middle">16</text><text x="260.5" y="337" text-anchor="middle">20</text><text x="308" y="337" text-anchor="middle">24</text></g>
<text class="pt" x="309" y="238.7" text-anchor="end" textLength="41.5" lengthAdjust="spacing">SO2 (ppb)</text>
<g clip-path="url(#c6)">
<path d="M348 300.24 L359.88 307.52 L371.75 305.84 L383.62 306.4 L395.5 308.92 L407.38 326 L419.25 326 L431.12 315.64 L443 310.04 L454.88 305.84 L466.75 303.04 L478.62 298.84 L490.5 287.64 L502.38 277 L514.25 266.36 L526.12 262.44 L538 258.24 L549.88 251.24 L561.75 254.6 L573.62 257.68 L585.5 261.04 L597.38 263.56 L609.25 267.2 L621.12 266.64 L633 273.64" fill="none" stroke="#00ffff" stroke-width="1.2" stroke-linejoin="round"/>
<path d="M348 272.8 L359.88 274.76 L371.75 277.28 L383.62 277.28 L395.5 294.5 L407.38 293.24 L419.25 283.16 L431.12 285.96 L443 288.2 L454.88 288.2 L466.75 293.24 L478.62 280.64 L490.5 278.12 L502.38 271.68 L514.25 274.76 L526.12 277 L538 294.08 L549.88 304.44 L561.75 308.36 L573.62 312 L585.5 317.6 L597.38 312 L609.25 290.16 L621.12 280.64 L633 279.8" fill="none" stroke="#00ff00" stroke-width="1.2" stroke-linejoin="round"/>
<path d="M348 279.52 L359.88 275.88 L371.75 273.64 L383.62 306.4 L395.5 284.56 L407.38 319 L419.25 296.32 L431.12 315.08 L443 324.6 L454.88 303.04 L466.75 314.52 L478.62 314.52 L490.5 295.48 L502.38 290.16 L514.25 290.16 L526.12 305 L538 293.8 L549.88 290.16 L561.75 291.28 L573.62 310.88 L585.5 319 L597.38 308.92 L609.25 323.48 L621.12 324.6 L633 325.44" fill="none" stroke="#0000ff" stroke-width="1.2" stroke-linejoin="round"/>
<path d="M348 326 L359.88 326 L371.75 326 L383.62 326 L395.5 324.6 L407.38 326 L419.25 326 L431.12 318.16 L443 320.12 L454.88 322.64 L490.5 296.04 L502.38 300.24 L514.25 296.04 L526.12 309.76 L538 324.6 L549.88 324.6 L561.75 325.16 L573.62 323.48 L585.5 320.12 L597.38 322.08 L609.25 312 L621.12 318.16 L633 316.48" fill="none" stroke="#ff0000" stroke-width="1.2" stroke-linejoin="round"/>
</g>
<path d="M348 326v-6M348 242v6M371.75 326v-4M371.75 242v4M395.5 326v-6M395.5 242v6M419.25 326v-4M419.25 242v4M443 326v-6M443 242v6M466.75 326v-4M466.75 242v4M490.5 326v-6M490.5 242v6M514.25 326v-4M514.25 242v4M538 326v-6M538 242v6M561.75 326v-4M561.75 242v4M585.5 326v-6M585.5 242v6M609.25 326v-4M609.25 242v4M633 326v-6M633 242v6M348 326h6M633 326h-6M348 319h4M633 319h-4M348 312h6M633 312h-6M348 305h4M633 305h-4M348 298h6M633 298h-6M348 291h4M633 291h-4M348 284h6M633 284h-6M348 277h4M633 277h-4M348 270h6M633 270h-6M348 263h4M633 263h-4M348 256h6M633 256h-6M348 249h4M633 249h-4M348 242h6M633 242h-6" stroke="#000" stroke-width="1" fill="none"/>
<rect x="348" y="242" width="285" height="84" fill="none" stroke="#1c1c1c" stroke-width="2"/>
<g clip-path="url(#c6)">
<path d="M345.2 300.24L350.8 300.24M348 297.44L348 303.04M345.2 297.44L350.8 303.04M345.2 303.04L350.8 297.44M357.07 307.52L362.68 307.52M359.88 304.72L359.88 310.32M357.07 304.72L362.68 310.32M357.07 310.32L362.68 304.72M368.95 305.84L374.55 305.84M371.75 303.04L371.75 308.64M368.95 303.04L374.55 308.64M368.95 308.64L374.55 303.04M380.82 306.4L386.43 306.4M383.62 303.6L383.62 309.2M380.82 303.6L386.43 309.2M380.82 309.2L386.43 303.6M392.7 308.92L398.3 308.92M395.5 306.12L395.5 311.72M392.7 306.12L398.3 311.72M392.7 311.72L398.3 306.12M404.57 326L410.18 326M407.38 323.2L407.38 328.8M404.57 323.2L410.18 328.8M404.57 328.8L410.18 323.2M416.45 326L422.05 326M419.25 323.2L419.25 328.8M416.45 323.2L422.05 328.8M416.45 328.8L422.05 323.2M428.32 315.64L433.93 315.64M431.12 312.84L431.12 318.44M428.32 312.84L433.93 318.44M428.32 318.44L433.93 312.84M440.2 310.04L445.8 310.04M443 307.24L443 312.84M440.2 307.24L445.8 312.84M440.2 312.84L445.8 307.24M452.07 305.84L457.68 305.84M454.88 303.04L454.88 308.64M452.07 303.04L457.68 308.64M452.07 308.64L457.68 303.04M463.95 303.04L469.55 303.04M466.75 300.24L466.75 305.84M463.95 300.24L469.55 305.84M463.95 305.84L469.55 300.24M475.82 298.84L481.43 298.84M478.62 296.04L478.62 301.64M475.82 296.04L481.43 301.64M475.82 301.64L481.43 296.04M487.7 287.64L493.3 287.64M490.5 284.84L490.5 290.44M487.7 284.84L493.3 290.44M487.7 290.44L493.3 284.84M499.57 277L505.18 277M502.38 274.2L502.38 279.8M499.57 274.2L505.18 279.8M499.57 279.8L505.18 274.2M511.45 266.36L517.05 266.36M514.25 263.56L514.25 269.16M511.45 263.56L517.05 269.16M511.45 269.16L517.05 263.56M523.33 262.44L528.92 262.44M526.12 259.64L526.12 265.24M523.33 259.64L528.92 265.24M523.33 265.24L528.92 259.64M535.2 258.24L540.8 258.24M538 255.44L538 261.04M535.2 255.44L540.8 261.04M535.2 261.04L540.8 255.44M547.08 251.24L552.67 251.24M549.88 248.44L549.88 254.04M547.08 248.44L552.67 254.04M547.08 254.04L552.67 248.44M558.95 254.6L564.55 254.6M561.75 251.8L561.75 257.4M558.95 251.8L564.55 257.4M558.95 257.4L564.55 251.8M570.83 257.68L576.42 257.68M573.62 254.88L573.62 260.48M570.83 254.88L576.42 260.48M570.83 260.48L576.42 254.88M582.7 261.04L588.3 261.04M585.5 258.24L585.5 263.84M582.7 258.24L588.3 263.84M582.7 263.84L588.3 258.24M594.58 263.56L600.17 263.56M597.38 260.76L597.38 266.36M594.58 260.76L600.17 266.36M594.58 266.36L600.17 260.76M606.45 267.2L612.05 267.2M609.25 264.4L609.25 270M606.45 264.4L612.05 270M606.45 270L612.05 264.4M618.33 266.64L623.92 266.64M621.12 263.84L621.12 269.44M618.33 263.84L623.92 269.44M618.33 269.44L623.92 263.84M630.2 273.64L635.8 273.64M633 270.84L633 276.44M630.2 270.84L635.8 276.44M630.2 276.44L635.8 270.84" fill="none" stroke="#00ffff" stroke-width="1.0"/>
<path d="M345.2 272.8L350.8 272.8M348 270L348 275.6M345.2 270L350.8 275.6M345.2 275.6L350.8 270M357.07 274.76L362.68 274.76M359.88 271.96L359.88 277.56M357.07 271.96L362.68 277.56M357.07 277.56L362.68 271.96M368.95 277.28L374.55 277.28M371.75 274.48L371.75 280.08M368.95 274.48L374.55 280.08M368.95 280.08L374.55 274.48M380.82 277.28L386.43 277.28M383.62 274.48L383.62 280.08M380.82 274.48L386.43 280.08M380.82 280.08L386.43 274.48M392.7 294.5L398.3 294.5M395.5 291.7L395.5 297.3M392.7 291.7L398.3 297.3M392.7 297.3L398.3 291.7M404.57 293.24L410.18 293.24M407.38 290.44L407.38 296.04M404.57 290.44L410.18 296.04M404.57 296.04L410.18 290.44M416.45 283.16L422.05 283.16M419.25 280.36L419.25 285.96M416.45 280.36L422.05 285.96M416.45 285.96L422.05 280.36M428.32 285.96L433.93 285.96M431.12 283.16L431.12 288.76M428.32 283.16L433.93 288.76M428.32 288.76L433.93 283.16M440.2 288.2L445.8 288.2M443 285.4L443 291M440.2 285.4L445.8 291M440.2 291L445.8 285.4M452.07 288.2L457.68 288.2M454.88 285.4L454.88 291M452.07 285.4L457.68 291M452.07 291L457.68 285.4M463.95 293.24L469.55 293.24M466.75 290.44L466.75 296.04M463.95 290.44L469.55 296.04M463.95 296.04L469.55 290.44M475.82 280.64L481.43 280.64M478.62 277.84L478.62 283.44M475.82 277.84L481.43 283.44M475.82 283.44L481.43 277.84M487.7 278.12L493.3 278.12M490.5 275.32L490.5 280.92M487.7 275.32L493.3 280.92M487.7 280.92L493.3 275.32M499.57 271.68L505.18 271.68M502.38 268.88L502.38 274.48M499.57 268.88L505.18 274.48M499.57 274.48L505.18 268.88M511.45 274.76L517.05 274.76M514.25 271.96L514.25 277.56M511.45 271.96L517.05 277.56M511.45 277.56L517.05 271.96M523.33 277L528.92 277M526.12 274.2L526.12 279.8M523.33 274.2L528.92 279.8M523.33 279.8L528.92 274.2M535.2 294.08L540.8 294.08M538 291.28L538 296.88M535.2 291.28L540.8 296.88M535.2 296.88L540.8 291.28M547.08 304.44L552.67 304.44M549.88 301.64L549.88 307.24M547.08 301.64L552.67 307.24M547.08 307.24L552.67 301.64M558.95 308.36L564.55 308.36M561.75 305.56L561.75 311.16M558.95 305.56L564.55 311.16M558.95 311.16L564.55 305.56M570.83 312L576.42 312M573.62 309.2L573.62 314.8M570.83 309.2L576.42 314.8M570.83 314.8L576.42 309.2M582.7 317.6L588.3 317.6M585.5 314.8L585.5 320.4M582.7 314.8L588.3 320.4M582.7 320.4L588.3 314.8M594.58 312L600.17 312M597.38 309.2L597.38 314.8M594.58 309.2L600.17 314.8M594.58 314.8L600.17 309.2M606.45 290.16L612.05 290.16M609.25 287.36L609.25 292.96M606.45 287.36L612.05 292.96M606.45 292.96L612.05 287.36M618.33 280.64L623.92 280.64M621.12 277.84L621.12 283.44M618.33 277.84L623.92 283.44M618.33 283.44L623.92 277.84M630.2 279.8L635.8 279.8M633 277L633 282.6M630.2 277L635.8 282.6M630.2 282.6L635.8 277" fill="none" stroke="#00ff00" stroke-width="1.0"/>
<path d="M345.2 279.52L350.8 279.52M348 276.72L348 282.32M345.2 276.72L350.8 282.32M345.2 282.32L350.8 276.72M357.07 275.88L362.68 275.88M359.88 273.08L359.88 278.68M357.07 273.08L362.68 278.68M357.07 278.68L362.68 273.08M368.95 273.64L374.55 273.64M371.75 270.84L371.75 276.44M368.95 270.84L374.55 276.44M368.95 276.44L374.55 270.84M380.82 306.4L386.43 306.4M383.62 303.6L383.62 309.2M380.82 303.6L386.43 309.2M380.82 309.2L386.43 303.6M392.7 284.56L398.3 284.56M395.5 281.76L395.5 287.36M392.7 281.76L398.3 287.36M392.7 287.36L398.3 281.76M404.57 319L410.18 319M407.38 316.2L407.38 321.8M404.57 316.2L410.18 321.8M404.57 321.8L410.18 316.2M416.45 296.32L422.05 296.32M419.25 293.52L419.25 299.12M416.45 293.52L422.05 299.12M416.45 299.12L422.05 293.52M428.32 315.08L433.93 315.08M431.12 312.28L431.12 317.88M428.32 312.28L433.93 317.88M428.32 317.88L433.93 312.28M440.2 324.6L445.8 324.6M443 321.8L443 327.4M440.2 321.8L445.8 327.4M440.2 327.4L445.8 321.8M452.07 303.04L457.68 303.04M454.88 300.24L454.88 305.84M452.07 300.24L457.68 305.84M452.07 305.84L457.68 300.24M463.95 314.52L469.55 314.52M466.75 311.72L466.75 317.32M463.95 311.72L469.55 317.32M463.95 317.32L469.55 311.72M475.82 314.52L481.43 314.52M478.62 311.72L478.62 317.32M475.82 311.72L481.43 317.32M475.82 317.32L481.43 311.72M487.7 295.48L493.3 295.48M490.5 292.68L490.5 298.28M487.7 292.68L493.3 298.28M487.7 298.28L493.3 292.68M499.57 290.16L505.18 290.16M502.38 287.36L502.38 292.96M499.57 287.36L505.18 292.96M499.57 292.96L505.18 287.36M511.45 290.16L517.05 290.16M514.25 287.36L514.25 292.96M511.45 287.36L517.05 292.96M511.45 292.96L517.05 287.36M523.33 305L528.92 305M526.12 302.2L526.12 307.8M523.33 302.2L528.92 307.8M523.33 307.8L528.92 302.2M535.2 293.8L540.8 293.8M538 291L538 296.6M535.2 291L540.8 296.6M535.2 296.6L540.8 291M547.08 290.16L552.67 290.16M549.88 287.36L549.88 292.96M547.08 287.36L552.67 292.96M547.08 292.96L552.67 287.36M558.95 291.28L564.55 291.28M561.75 288.48L561.75 294.08M558.95 288.48L564.55 294.08M558.95 294.08L564.55 288.48M570.83 310.88L576.42 310.88M573.62 308.08L573.62 313.68M570.83 308.08L576.42 313.68M570.83 313.68L576.42 308.08M582.7 319L588.3 319M585.5 316.2L585.5 321.8M582.7 316.2L588.3 321.8M582.7 321.8L588.3 316.2M594.58 308.92L600.17 308.92M597.38 306.12L597.38 311.72M594.58 306.12L600.17 311.72M594.58 311.72L600.17 306.12M606.45 323.48L612.05 323.48M609.25 320.68L609.25 326.28M606.45 320.68L612.05 326.28M606.45 326.28L612.05 320.68M618.33 324.6L623.92 324.6M621.12 321.8L621.12 327.4M618.33 321.8L623.92 327.4M618.33 327.4L623.92 321.8M630.2 325.44L635.8 325.44M633 322.64L633 328.24M630.2 322.64L635.8 328.24M630.2 328.24L635.8 322.64" fill="none" stroke="#0000ff" stroke-width="1.0"/>
<path d="M345.2 326L350.8 326M348 323.2L348 328.8M345.2 323.2L350.8 328.8M345.2 328.8L350.8 323.2M357.07 326L362.68 326M359.88 323.2L359.88 328.8M357.07 323.2L362.68 328.8M357.07 328.8L362.68 323.2M368.95 326L374.55 326M371.75 323.2L371.75 328.8M368.95 323.2L374.55 328.8M368.95 328.8L374.55 323.2M380.82 326L386.43 326M383.62 323.2L383.62 328.8M380.82 323.2L386.43 328.8M380.82 328.8L386.43 323.2M392.7 324.6L398.3 324.6M395.5 321.8L395.5 327.4M392.7 321.8L398.3 327.4M392.7 327.4L398.3 321.8M404.57 326L410.18 326M407.38 323.2L407.38 328.8M404.57 323.2L410.18 328.8M404.57 328.8L410.18 323.2M416.45 326L422.05 326M419.25 323.2L419.25 328.8M416.45 323.2L422.05 328.8M416.45 328.8L422.05 323.2M428.32 318.16L433.93 318.16M431.12 315.36L431.12 320.96M428.32 315.36L433.93 320.96M428.32 320.96L433.93 315.36M440.2 320.12L445.8 320.12M443 317.32L443 322.92M440.2 317.32L445.8 322.92M440.2 322.92L445.8 317.32M452.07 322.64L457.68 322.64M454.88 319.84L454.88 325.44M452.07 319.84L457.68 325.44M452.07 325.44L457.68 319.84M487.7 296.04L493.3 296.04M490.5 293.24L490.5 298.84M487.7 293.24L493.3 298.84M487.7 298.84L493.3 293.24M499.57 300.24L505.18 300.24M502.38 297.44L502.38 303.04M499.57 297.44L505.18 303.04M499.57 303.04L505.18 297.44M511.45 296.04L517.05 296.04M514.25 293.24L514.25 298.84M511.45 293.24L517.05 298.84M511.45 298.84L517.05 293.24M523.33 309.76L528.92 309.76M526.12 306.96L526.12 312.56M523.33 306.96L528.92 312.56M523.33 312.56L528.92 306.96M535.2 324.6L540.8 324.6M538 321.8L538 327.4M535.2 321.8L540.8 327.4M535.2 327.4L540.8 321.8M547.08 324.6L552.67 324.6M549.88 321.8L549.88 327.4M547.08 321.8L552.67 327.4M547.08 327.4L552.67 321.8M558.95 325.16L564.55 325.16M561.75 322.36L561.75 327.96M558.95 322.36L564.55 327.96M558.95 327.96L564.55 322.36M570.83 323.48L576.42 323.48M573.62 320.68L573.62 326.28M570.83 320.68L576.42 326.28M570.83 326.28L576.42 320.68M582.7 320.12L588.3 320.12M585.5 317.32L585.5 322.92M582.7 317.32L588.3 322.92M582.7 322.92L588.3 317.32M594.58 322.08L600.17 322.08M597.38 319.28L597.38 324.88M594.58 319.28L600.17 324.88M594.58 324.88L600.17 319.28M606.45 312L612.05 312M609.25 309.2L609.25 314.8M606.45 309.2L612.05 314.8M606.45 314.8L612.05 309.2M618.33 318.16L623.92 318.16M621.12 315.36L621.12 320.96M618.33 315.36L623.92 320.96M618.33 320.96L623.92 315.36M630.2 316.48L635.8 316.48M633 313.68L633 319.28M630.2 313.68L635.8 319.28M630.2 319.28L635.8 313.68" fill="none" stroke="#ff0000" stroke-width="1.0"/>
</g>
<path d="M349 312H632M349 298H632M349 284H632M349 270H632M349 256H632" stroke="#444" stroke-width="1.4" stroke-dasharray="1.5,1.5" fill="none"/>
<path d="M395.5 243V325M443 243V325M490.5 243V325M538 243V325M585.5 243V325" stroke="#000" stroke-width="1.0" stroke-dasharray="1,2" fill="none"/>
<g class="t"><text x="343" y="329" text-anchor="end">0</text><text x="343" y="315" text-anchor="end">5</text><text x="343" y="301" text-anchor="end">10</text><text x="343" y="287" text-anchor="end">15</text><text x="343" y="273" text-anchor="end">20</text><text x="343" y="259" text-anchor="end">25</text><text x="343" y="245" text-anchor="end">30</text><text x="348" y="337" text-anchor="middle">0</text><text x="395.5" y="337" text-anchor="middle">4</text><text x="443" y="337" text-anchor="middle">8</text><text x="490.5" y="337" text-anchor="middle">12</text><text x="538" y="337" text-anchor="middle">16</text><text x="585.5" y="337" text-anchor="middle">20</text><text x="633" y="337" text-anchor="middle">24</text></g>
<text class="pt" x="634" y="238.7" text-anchor="end" textLength="36" lengthAdjust="spacing">O3 (ppb)</text>
</svg>
</body></html>
